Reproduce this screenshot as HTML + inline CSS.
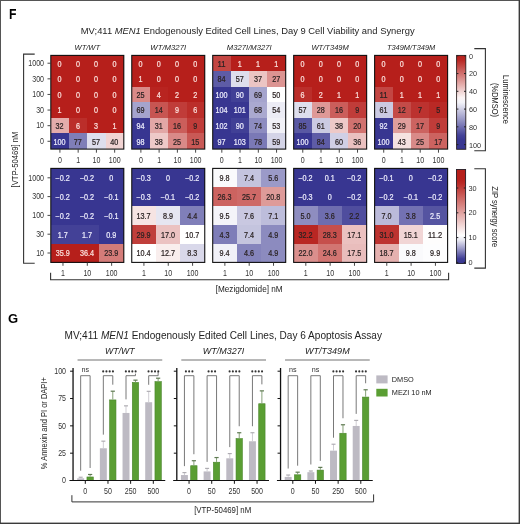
<!DOCTYPE html><html><head><meta charset="utf-8"><style>
html,body{margin:0;padding:0;background:#fff;width:520px;height:524px;overflow:hidden}
svg{display:block;will-change:transform}
text{font-family:"Liberation Sans", sans-serif}
</style></head><body>
<svg width="520" height="524" viewBox="0 0 520 524">
<rect x="0" y="0" width="520" height="524" fill="#fff"/>
<defs>
<linearGradient id="glum" x1="0" y1="0" x2="0" y2="1">
<stop offset="0.000" stop-color="#b61f1b"/>
<stop offset="0.050" stop-color="#b92723"/>
<stop offset="0.100" stop-color="#c1413d"/>
<stop offset="0.150" stop-color="#c95b58"/>
<stop offset="0.200" stop-color="#d27472"/>
<stop offset="0.250" stop-color="#da8e8c"/>
<stop offset="0.300" stop-color="#e3a8a6"/>
<stop offset="0.350" stop-color="#ebc2c1"/>
<stop offset="0.400" stop-color="#f3dcdb"/>
<stop offset="0.450" stop-color="#fcf5f5"/>
<stop offset="0.500" stop-color="#f4f4f9"/>
<stop offset="0.550" stop-color="#dbdbeb"/>
<stop offset="0.600" stop-color="#c2c1dd"/>
<stop offset="0.650" stop-color="#a9a8cf"/>
<stop offset="0.700" stop-color="#908fc1"/>
<stop offset="0.750" stop-color="#7775b4"/>
<stop offset="0.800" stop-color="#5d5ca6"/>
<stop offset="0.850" stop-color="#444298"/>
<stop offset="0.900" stop-color="#383691"/>
<stop offset="0.950" stop-color="#383691"/>
<stop offset="1.000" stop-color="#383691"/>
</linearGradient>
<linearGradient id="gsyn" x1="0" y1="0" x2="0" y2="1">
<stop offset="0.000" stop-color="#b61f1b"/>
<stop offset="0.050" stop-color="#b61f1b"/>
<stop offset="0.100" stop-color="#b61f1b"/>
<stop offset="0.150" stop-color="#ba2a27"/>
<stop offset="0.200" stop-color="#c03e3a"/>
<stop offset="0.250" stop-color="#c6514e"/>
<stop offset="0.300" stop-color="#cd6562"/>
<stop offset="0.350" stop-color="#d37875"/>
<stop offset="0.400" stop-color="#d98b89"/>
<stop offset="0.450" stop-color="#e09f9d"/>
<stop offset="0.500" stop-color="#e6b2b1"/>
<stop offset="0.550" stop-color="#ecc5c4"/>
<stop offset="0.600" stop-color="#f3d9d8"/>
<stop offset="0.650" stop-color="#f9ecec"/>
<stop offset="0.700" stop-color="#ffffff"/>
<stop offset="0.750" stop-color="#eaeaf3"/>
<stop offset="0.800" stop-color="#bfbedc"/>
<stop offset="0.850" stop-color="#9493c4"/>
<stop offset="0.900" stop-color="#6967ac"/>
<stop offset="0.950" stop-color="#3e3c94"/>
<stop offset="1.000" stop-color="#383691"/>
</linearGradient>
</defs>
<text transform="translate(9.0 19) scale(0.86 1)" font-size="14.2" font-weight="bold" fill="#000">F</text>
<text x="7.9" y="323.4" font-size="13" font-weight="bold" fill="#000">G</text>
<text x="80.8" y="34" font-size="9.4" fill="#1e1e1e" textLength="333.8" lengthAdjust="spacingAndGlyphs">MV;411 <tspan font-style="italic">MEN1</tspan> Endogenously Edited Cell Lines, Day 9 Cell Viability and Synergy</text>
<text x="64.6" y="339.2" font-size="10.05" fill="#1e1e1e" textLength="317.4" lengthAdjust="spacingAndGlyphs">MV;411 <tspan font-style="italic">MEN1</tspan> Endogenously Edited Cell Lines, Day 6 Apoptosis Assay</text>
<text x="87.30" y="49.9" font-size="8.1" font-style="italic" fill="#222" text-anchor="middle" textLength="25.6" lengthAdjust="spacingAndGlyphs">WT/WT</text>
<rect x="50.80" y="55.40" width="18.55" height="15.92" fill="#b61f1b" shape-rendering="crispEdges"/>
<rect x="69.05" y="55.40" width="18.55" height="15.92" fill="#b61f1b" shape-rendering="crispEdges"/>
<rect x="87.30" y="55.40" width="18.55" height="15.92" fill="#b61f1b" shape-rendering="crispEdges"/>
<rect x="105.55" y="55.40" width="18.55" height="15.92" fill="#b61f1b" shape-rendering="crispEdges"/>
<rect x="50.80" y="71.02" width="18.55" height="15.92" fill="#b61f1b" shape-rendering="crispEdges"/>
<rect x="69.05" y="71.02" width="18.55" height="15.92" fill="#b61f1b" shape-rendering="crispEdges"/>
<rect x="87.30" y="71.02" width="18.55" height="15.92" fill="#b61f1b" shape-rendering="crispEdges"/>
<rect x="105.55" y="71.02" width="18.55" height="15.92" fill="#b61f1b" shape-rendering="crispEdges"/>
<rect x="50.80" y="86.63" width="18.55" height="15.92" fill="#b61f1b" shape-rendering="crispEdges"/>
<rect x="69.05" y="86.63" width="18.55" height="15.92" fill="#b61f1b" shape-rendering="crispEdges"/>
<rect x="87.30" y="86.63" width="18.55" height="15.92" fill="#b61f1b" shape-rendering="crispEdges"/>
<rect x="105.55" y="86.63" width="18.55" height="15.92" fill="#b61f1b" shape-rendering="crispEdges"/>
<rect x="50.80" y="102.25" width="18.55" height="15.92" fill="#b61f1b" shape-rendering="crispEdges"/>
<rect x="69.05" y="102.25" width="18.55" height="15.92" fill="#b61f1b" shape-rendering="crispEdges"/>
<rect x="87.30" y="102.25" width="18.55" height="15.92" fill="#b61f1b" shape-rendering="crispEdges"/>
<rect x="105.55" y="102.25" width="18.55" height="15.92" fill="#b61f1b" shape-rendering="crispEdges"/>
<rect x="50.80" y="117.87" width="18.55" height="15.92" fill="#e4acab" shape-rendering="crispEdges"/>
<rect x="69.05" y="117.87" width="18.55" height="15.92" fill="#bb2e2a" shape-rendering="crispEdges"/>
<rect x="87.30" y="117.87" width="18.55" height="15.92" fill="#b61f1b" shape-rendering="crispEdges"/>
<rect x="105.55" y="117.87" width="18.55" height="15.92" fill="#b61f1b" shape-rendering="crispEdges"/>
<rect x="50.80" y="133.48" width="18.55" height="15.92" fill="#383691" shape-rendering="crispEdges"/>
<rect x="69.05" y="133.48" width="18.55" height="15.92" fill="#7f7eb8" shape-rendering="crispEdges"/>
<rect x="87.30" y="133.48" width="18.55" height="15.92" fill="#dedeed" shape-rendering="crispEdges"/>
<rect x="105.55" y="133.48" width="18.55" height="15.92" fill="#f1d3d2" shape-rendering="crispEdges"/>
<text x="59.62" y="66.61" font-size="8.30" fill="#fbe0dc" stroke="#fbe0dc" stroke-width="0.22" text-anchor="middle" textLength="4.01" lengthAdjust="spacingAndGlyphs">0</text>
<text x="77.88" y="66.61" font-size="8.30" fill="#fbe0dc" stroke="#fbe0dc" stroke-width="0.22" text-anchor="middle" textLength="4.01" lengthAdjust="spacingAndGlyphs">0</text>
<text x="96.12" y="66.61" font-size="8.30" fill="#fbe0dc" stroke="#fbe0dc" stroke-width="0.22" text-anchor="middle" textLength="4.01" lengthAdjust="spacingAndGlyphs">0</text>
<text x="114.38" y="66.61" font-size="8.30" fill="#fbe0dc" stroke="#fbe0dc" stroke-width="0.22" text-anchor="middle" textLength="4.01" lengthAdjust="spacingAndGlyphs">0</text>
<text x="59.62" y="82.23" font-size="8.30" fill="#fbe0dc" stroke="#fbe0dc" stroke-width="0.22" text-anchor="middle" textLength="4.01" lengthAdjust="spacingAndGlyphs">0</text>
<text x="77.88" y="82.23" font-size="8.30" fill="#fbe0dc" stroke="#fbe0dc" stroke-width="0.22" text-anchor="middle" textLength="4.01" lengthAdjust="spacingAndGlyphs">0</text>
<text x="96.12" y="82.23" font-size="8.30" fill="#fbe0dc" stroke="#fbe0dc" stroke-width="0.22" text-anchor="middle" textLength="4.01" lengthAdjust="spacingAndGlyphs">0</text>
<text x="114.38" y="82.23" font-size="8.30" fill="#fbe0dc" stroke="#fbe0dc" stroke-width="0.22" text-anchor="middle" textLength="4.01" lengthAdjust="spacingAndGlyphs">0</text>
<text x="59.62" y="97.84" font-size="8.30" fill="#fbe0dc" stroke="#fbe0dc" stroke-width="0.22" text-anchor="middle" textLength="4.01" lengthAdjust="spacingAndGlyphs">0</text>
<text x="77.88" y="97.84" font-size="8.30" fill="#fbe0dc" stroke="#fbe0dc" stroke-width="0.22" text-anchor="middle" textLength="4.01" lengthAdjust="spacingAndGlyphs">0</text>
<text x="96.12" y="97.84" font-size="8.30" fill="#fbe0dc" stroke="#fbe0dc" stroke-width="0.22" text-anchor="middle" textLength="4.01" lengthAdjust="spacingAndGlyphs">0</text>
<text x="114.38" y="97.84" font-size="8.30" fill="#fbe0dc" stroke="#fbe0dc" stroke-width="0.22" text-anchor="middle" textLength="4.01" lengthAdjust="spacingAndGlyphs">0</text>
<text x="59.62" y="113.46" font-size="8.30" fill="#fbe0dc" stroke="#fbe0dc" stroke-width="0.22" text-anchor="middle" textLength="4.01" lengthAdjust="spacingAndGlyphs">1</text>
<text x="77.88" y="113.46" font-size="8.30" fill="#fbe0dc" stroke="#fbe0dc" stroke-width="0.22" text-anchor="middle" textLength="4.01" lengthAdjust="spacingAndGlyphs">0</text>
<text x="96.12" y="113.46" font-size="8.30" fill="#fbe0dc" stroke="#fbe0dc" stroke-width="0.22" text-anchor="middle" textLength="4.01" lengthAdjust="spacingAndGlyphs">0</text>
<text x="114.38" y="113.46" font-size="8.30" fill="#fbe0dc" stroke="#fbe0dc" stroke-width="0.22" text-anchor="middle" textLength="4.01" lengthAdjust="spacingAndGlyphs">0</text>
<text x="59.62" y="129.08" font-size="8.30" fill="#2a2222" stroke="#2a2222" stroke-width="0.22" text-anchor="middle" textLength="8.03" lengthAdjust="spacingAndGlyphs">32</text>
<text x="77.88" y="129.08" font-size="8.30" fill="#fbe0dc" stroke="#fbe0dc" stroke-width="0.22" text-anchor="middle" textLength="4.01" lengthAdjust="spacingAndGlyphs">6</text>
<text x="96.12" y="129.08" font-size="8.30" fill="#fbe0dc" stroke="#fbe0dc" stroke-width="0.22" text-anchor="middle" textLength="4.01" lengthAdjust="spacingAndGlyphs">3</text>
<text x="114.38" y="129.08" font-size="8.30" fill="#fbe0dc" stroke="#fbe0dc" stroke-width="0.22" text-anchor="middle" textLength="4.01" lengthAdjust="spacingAndGlyphs">1</text>
<text x="59.62" y="144.69" font-size="8.30" fill="#ececfc" stroke="#ececfc" stroke-width="0.22" text-anchor="middle" textLength="12.04" lengthAdjust="spacingAndGlyphs">100</text>
<text x="77.88" y="144.69" font-size="8.30" fill="#2a2222" stroke="#2a2222" stroke-width="0.22" text-anchor="middle" textLength="8.03" lengthAdjust="spacingAndGlyphs">77</text>
<text x="96.12" y="144.69" font-size="8.30" fill="#2a2222" stroke="#2a2222" stroke-width="0.22" text-anchor="middle" textLength="8.03" lengthAdjust="spacingAndGlyphs">57</text>
<text x="114.38" y="144.69" font-size="8.30" fill="#2a2222" stroke="#2a2222" stroke-width="0.22" text-anchor="middle" textLength="8.03" lengthAdjust="spacingAndGlyphs">40</text>
<rect x="50.80" y="55.40" width="73.00" height="93.70" fill="none" stroke="#111" stroke-width="1.1"/>
<line x1="59.92" y1="149.10" x2="59.92" y2="152.70" stroke="#333" stroke-width="0.9"/>
<text x="59.92" y="163.10" font-size="8.30" fill="#333" text-anchor="middle" textLength="3.92" lengthAdjust="spacingAndGlyphs">0</text>
<line x1="78.17" y1="149.10" x2="78.17" y2="152.70" stroke="#333" stroke-width="0.9"/>
<text x="78.17" y="163.10" font-size="8.30" fill="#333" text-anchor="middle" textLength="3.92" lengthAdjust="spacingAndGlyphs">1</text>
<line x1="96.42" y1="149.10" x2="96.42" y2="152.70" stroke="#333" stroke-width="0.9"/>
<text x="96.42" y="163.10" font-size="8.30" fill="#333" text-anchor="middle" textLength="7.85" lengthAdjust="spacingAndGlyphs">10</text>
<line x1="114.67" y1="149.10" x2="114.67" y2="152.70" stroke="#333" stroke-width="0.9"/>
<text x="114.67" y="163.10" font-size="8.30" fill="#333" text-anchor="middle" textLength="11.77" lengthAdjust="spacingAndGlyphs">100</text>
<rect x="50.80" y="168.40" width="24.63" height="19.10" fill="#383691" shape-rendering="crispEdges"/>
<rect x="75.13" y="168.40" width="24.63" height="19.10" fill="#383691" shape-rendering="crispEdges"/>
<rect x="99.47" y="168.40" width="24.63" height="19.10" fill="#383691" shape-rendering="crispEdges"/>
<rect x="50.80" y="187.20" width="24.63" height="19.10" fill="#383691" shape-rendering="crispEdges"/>
<rect x="75.13" y="187.20" width="24.63" height="19.10" fill="#383691" shape-rendering="crispEdges"/>
<rect x="99.47" y="187.20" width="24.63" height="19.10" fill="#383691" shape-rendering="crispEdges"/>
<rect x="50.80" y="206.00" width="24.63" height="19.10" fill="#383691" shape-rendering="crispEdges"/>
<rect x="75.13" y="206.00" width="24.63" height="19.10" fill="#383691" shape-rendering="crispEdges"/>
<rect x="99.47" y="206.00" width="24.63" height="19.10" fill="#383691" shape-rendering="crispEdges"/>
<rect x="50.80" y="224.80" width="24.63" height="19.10" fill="#434197" shape-rendering="crispEdges"/>
<rect x="75.13" y="224.80" width="24.63" height="19.10" fill="#434197" shape-rendering="crispEdges"/>
<rect x="99.47" y="224.80" width="24.63" height="19.10" fill="#383691" shape-rendering="crispEdges"/>
<rect x="50.80" y="243.60" width="24.63" height="19.10" fill="#b61f1b" shape-rendering="crispEdges"/>
<rect x="75.13" y="243.60" width="24.63" height="19.10" fill="#b61f1b" shape-rendering="crispEdges"/>
<rect x="99.47" y="243.60" width="24.63" height="19.10" fill="#d47c79" shape-rendering="crispEdges"/>
<text x="62.67" y="181.20" font-size="8.30" fill="#ececfc" stroke="#ececfc" stroke-width="0.22" text-anchor="middle" textLength="14.25" lengthAdjust="spacingAndGlyphs">−0.2</text>
<text x="87.00" y="181.20" font-size="8.30" fill="#ececfc" stroke="#ececfc" stroke-width="0.22" text-anchor="middle" textLength="14.25" lengthAdjust="spacingAndGlyphs">−0.2</text>
<text x="111.33" y="181.20" font-size="8.30" fill="#ececfc" stroke="#ececfc" stroke-width="0.22" text-anchor="middle" textLength="4.01" lengthAdjust="spacingAndGlyphs">0</text>
<text x="62.67" y="200.00" font-size="8.30" fill="#ececfc" stroke="#ececfc" stroke-width="0.22" text-anchor="middle" textLength="14.25" lengthAdjust="spacingAndGlyphs">−0.2</text>
<text x="87.00" y="200.00" font-size="8.30" fill="#ececfc" stroke="#ececfc" stroke-width="0.22" text-anchor="middle" textLength="14.25" lengthAdjust="spacingAndGlyphs">−0.2</text>
<text x="111.33" y="200.00" font-size="8.30" fill="#ececfc" stroke="#ececfc" stroke-width="0.22" text-anchor="middle" textLength="14.25" lengthAdjust="spacingAndGlyphs">−0.1</text>
<text x="62.67" y="218.80" font-size="8.30" fill="#ececfc" stroke="#ececfc" stroke-width="0.22" text-anchor="middle" textLength="14.25" lengthAdjust="spacingAndGlyphs">−0.2</text>
<text x="87.00" y="218.80" font-size="8.30" fill="#ececfc" stroke="#ececfc" stroke-width="0.22" text-anchor="middle" textLength="14.25" lengthAdjust="spacingAndGlyphs">−0.2</text>
<text x="111.33" y="218.80" font-size="8.30" fill="#ececfc" stroke="#ececfc" stroke-width="0.22" text-anchor="middle" textLength="14.25" lengthAdjust="spacingAndGlyphs">−0.1</text>
<text x="62.67" y="237.60" font-size="8.30" fill="#ececfc" stroke="#ececfc" stroke-width="0.22" text-anchor="middle" textLength="10.04" lengthAdjust="spacingAndGlyphs">1.7</text>
<text x="87.00" y="237.60" font-size="8.30" fill="#ececfc" stroke="#ececfc" stroke-width="0.22" text-anchor="middle" textLength="10.04" lengthAdjust="spacingAndGlyphs">1.7</text>
<text x="111.33" y="237.60" font-size="8.30" fill="#ececfc" stroke="#ececfc" stroke-width="0.22" text-anchor="middle" textLength="10.04" lengthAdjust="spacingAndGlyphs">0.9</text>
<text x="62.67" y="256.40" font-size="8.30" fill="#fbe0dc" stroke="#fbe0dc" stroke-width="0.22" text-anchor="middle" textLength="14.05" lengthAdjust="spacingAndGlyphs">35.9</text>
<text x="87.00" y="256.40" font-size="8.30" fill="#fbe0dc" stroke="#fbe0dc" stroke-width="0.22" text-anchor="middle" textLength="14.05" lengthAdjust="spacingAndGlyphs">36.4</text>
<text x="111.33" y="256.40" font-size="8.30" fill="#2a2222" stroke="#2a2222" stroke-width="0.22" text-anchor="middle" textLength="14.05" lengthAdjust="spacingAndGlyphs">23.9</text>
<rect x="50.80" y="168.40" width="73.00" height="94.00" fill="none" stroke="#111" stroke-width="1.1"/>
<line x1="62.97" y1="262.40" x2="62.97" y2="265.80" stroke="#333" stroke-width="0.9"/>
<text x="62.97" y="275.80" font-size="8.30" fill="#333" text-anchor="middle" textLength="3.92" lengthAdjust="spacingAndGlyphs">1</text>
<line x1="87.30" y1="262.40" x2="87.30" y2="265.80" stroke="#333" stroke-width="0.9"/>
<text x="87.30" y="275.80" font-size="8.30" fill="#333" text-anchor="middle" textLength="7.85" lengthAdjust="spacingAndGlyphs">10</text>
<line x1="111.63" y1="262.40" x2="111.63" y2="265.80" stroke="#333" stroke-width="0.9"/>
<text x="111.63" y="275.80" font-size="8.30" fill="#333" text-anchor="middle" textLength="11.77" lengthAdjust="spacingAndGlyphs">100</text>
<text x="168.25" y="49.9" font-size="8.1" font-style="italic" fill="#222" text-anchor="middle" textLength="35.8" lengthAdjust="spacingAndGlyphs">WT/M327I</text>
<rect x="131.75" y="55.40" width="18.55" height="15.92" fill="#b61f1b" shape-rendering="crispEdges"/>
<rect x="150.00" y="55.40" width="18.55" height="15.92" fill="#b61f1b" shape-rendering="crispEdges"/>
<rect x="168.25" y="55.40" width="18.55" height="15.92" fill="#b61f1b" shape-rendering="crispEdges"/>
<rect x="186.50" y="55.40" width="18.55" height="15.92" fill="#b61f1b" shape-rendering="crispEdges"/>
<rect x="131.75" y="71.02" width="18.55" height="15.92" fill="#b61f1b" shape-rendering="crispEdges"/>
<rect x="150.00" y="71.02" width="18.55" height="15.92" fill="#b61f1b" shape-rendering="crispEdges"/>
<rect x="168.25" y="71.02" width="18.55" height="15.92" fill="#b61f1b" shape-rendering="crispEdges"/>
<rect x="186.50" y="71.02" width="18.55" height="15.92" fill="#b61f1b" shape-rendering="crispEdges"/>
<rect x="131.75" y="86.63" width="18.55" height="15.92" fill="#d98a88" shape-rendering="crispEdges"/>
<rect x="150.00" y="86.63" width="18.55" height="15.92" fill="#b82420" shape-rendering="crispEdges"/>
<rect x="168.25" y="86.63" width="18.55" height="15.92" fill="#b61f1b" shape-rendering="crispEdges"/>
<rect x="186.50" y="86.63" width="18.55" height="15.92" fill="#b61f1b" shape-rendering="crispEdges"/>
<rect x="131.75" y="102.25" width="18.55" height="15.92" fill="#a5a4cd" shape-rendering="crispEdges"/>
<rect x="150.00" y="102.25" width="18.55" height="15.92" fill="#c75552" shape-rendering="crispEdges"/>
<rect x="168.25" y="102.25" width="18.55" height="15.92" fill="#c03c39" shape-rendering="crispEdges"/>
<rect x="186.50" y="102.25" width="18.55" height="15.92" fill="#bb2e2a" shape-rendering="crispEdges"/>
<rect x="131.75" y="117.87" width="18.55" height="15.92" fill="#383691" shape-rendering="crispEdges"/>
<rect x="150.00" y="117.87" width="18.55" height="15.92" fill="#e2a7a6" shape-rendering="crispEdges"/>
<rect x="168.25" y="117.87" width="18.55" height="15.92" fill="#cb5e5b" shape-rendering="crispEdges"/>
<rect x="186.50" y="117.87" width="18.55" height="15.92" fill="#c03c39" shape-rendering="crispEdges"/>
<rect x="131.75" y="133.48" width="18.55" height="15.92" fill="#383691" shape-rendering="crispEdges"/>
<rect x="150.00" y="133.48" width="18.55" height="15.92" fill="#eec9c8" shape-rendering="crispEdges"/>
<rect x="168.25" y="133.48" width="18.55" height="15.92" fill="#d98a88" shape-rendering="crispEdges"/>
<rect x="186.50" y="133.48" width="18.55" height="15.92" fill="#c95956" shape-rendering="crispEdges"/>
<text x="140.57" y="66.61" font-size="8.30" fill="#fbe0dc" stroke="#fbe0dc" stroke-width="0.22" text-anchor="middle" textLength="4.01" lengthAdjust="spacingAndGlyphs">0</text>
<text x="158.82" y="66.61" font-size="8.30" fill="#fbe0dc" stroke="#fbe0dc" stroke-width="0.22" text-anchor="middle" textLength="4.01" lengthAdjust="spacingAndGlyphs">0</text>
<text x="177.07" y="66.61" font-size="8.30" fill="#fbe0dc" stroke="#fbe0dc" stroke-width="0.22" text-anchor="middle" textLength="4.01" lengthAdjust="spacingAndGlyphs">0</text>
<text x="195.32" y="66.61" font-size="8.30" fill="#fbe0dc" stroke="#fbe0dc" stroke-width="0.22" text-anchor="middle" textLength="4.01" lengthAdjust="spacingAndGlyphs">0</text>
<text x="140.57" y="82.23" font-size="8.30" fill="#fbe0dc" stroke="#fbe0dc" stroke-width="0.22" text-anchor="middle" textLength="4.01" lengthAdjust="spacingAndGlyphs">1</text>
<text x="158.82" y="82.23" font-size="8.30" fill="#fbe0dc" stroke="#fbe0dc" stroke-width="0.22" text-anchor="middle" textLength="4.01" lengthAdjust="spacingAndGlyphs">0</text>
<text x="177.07" y="82.23" font-size="8.30" fill="#fbe0dc" stroke="#fbe0dc" stroke-width="0.22" text-anchor="middle" textLength="4.01" lengthAdjust="spacingAndGlyphs">0</text>
<text x="195.32" y="82.23" font-size="8.30" fill="#fbe0dc" stroke="#fbe0dc" stroke-width="0.22" text-anchor="middle" textLength="4.01" lengthAdjust="spacingAndGlyphs">0</text>
<text x="140.57" y="97.84" font-size="8.30" fill="#2a2222" stroke="#2a2222" stroke-width="0.22" text-anchor="middle" textLength="8.03" lengthAdjust="spacingAndGlyphs">25</text>
<text x="158.82" y="97.84" font-size="8.30" fill="#fbe0dc" stroke="#fbe0dc" stroke-width="0.22" text-anchor="middle" textLength="4.01" lengthAdjust="spacingAndGlyphs">4</text>
<text x="177.07" y="97.84" font-size="8.30" fill="#fbe0dc" stroke="#fbe0dc" stroke-width="0.22" text-anchor="middle" textLength="4.01" lengthAdjust="spacingAndGlyphs">2</text>
<text x="195.32" y="97.84" font-size="8.30" fill="#fbe0dc" stroke="#fbe0dc" stroke-width="0.22" text-anchor="middle" textLength="4.01" lengthAdjust="spacingAndGlyphs">2</text>
<text x="140.57" y="113.46" font-size="8.30" fill="#2a2222" stroke="#2a2222" stroke-width="0.22" text-anchor="middle" textLength="8.03" lengthAdjust="spacingAndGlyphs">69</text>
<text x="158.82" y="113.46" font-size="8.30" fill="#2a2222" stroke="#2a2222" stroke-width="0.22" text-anchor="middle" textLength="8.03" lengthAdjust="spacingAndGlyphs">14</text>
<text x="177.07" y="113.46" font-size="8.30" fill="#fbe0dc" stroke="#fbe0dc" stroke-width="0.22" text-anchor="middle" textLength="4.01" lengthAdjust="spacingAndGlyphs">9</text>
<text x="195.32" y="113.46" font-size="8.30" fill="#fbe0dc" stroke="#fbe0dc" stroke-width="0.22" text-anchor="middle" textLength="4.01" lengthAdjust="spacingAndGlyphs">6</text>
<text x="140.57" y="129.08" font-size="8.30" fill="#ececfc" stroke="#ececfc" stroke-width="0.22" text-anchor="middle" textLength="8.03" lengthAdjust="spacingAndGlyphs">94</text>
<text x="158.82" y="129.08" font-size="8.30" fill="#2a2222" stroke="#2a2222" stroke-width="0.22" text-anchor="middle" textLength="8.03" lengthAdjust="spacingAndGlyphs">31</text>
<text x="177.07" y="129.08" font-size="8.30" fill="#2a2222" stroke="#2a2222" stroke-width="0.22" text-anchor="middle" textLength="8.03" lengthAdjust="spacingAndGlyphs">16</text>
<text x="195.32" y="129.08" font-size="8.30" fill="#2a2222" stroke="#2a2222" stroke-width="0.22" text-anchor="middle" textLength="4.01" lengthAdjust="spacingAndGlyphs">9</text>
<text x="140.57" y="144.69" font-size="8.30" fill="#ececfc" stroke="#ececfc" stroke-width="0.22" text-anchor="middle" textLength="8.03" lengthAdjust="spacingAndGlyphs">98</text>
<text x="158.82" y="144.69" font-size="8.30" fill="#2a2222" stroke="#2a2222" stroke-width="0.22" text-anchor="middle" textLength="8.03" lengthAdjust="spacingAndGlyphs">38</text>
<text x="177.07" y="144.69" font-size="8.30" fill="#2a2222" stroke="#2a2222" stroke-width="0.22" text-anchor="middle" textLength="8.03" lengthAdjust="spacingAndGlyphs">25</text>
<text x="195.32" y="144.69" font-size="8.30" fill="#2a2222" stroke="#2a2222" stroke-width="0.22" text-anchor="middle" textLength="8.03" lengthAdjust="spacingAndGlyphs">15</text>
<rect x="131.75" y="55.40" width="73.00" height="93.70" fill="none" stroke="#111" stroke-width="1.1"/>
<line x1="140.88" y1="149.10" x2="140.88" y2="152.70" stroke="#333" stroke-width="0.9"/>
<text x="140.88" y="163.10" font-size="8.30" fill="#333" text-anchor="middle" textLength="3.92" lengthAdjust="spacingAndGlyphs">0</text>
<line x1="159.12" y1="149.10" x2="159.12" y2="152.70" stroke="#333" stroke-width="0.9"/>
<text x="159.12" y="163.10" font-size="8.30" fill="#333" text-anchor="middle" textLength="3.92" lengthAdjust="spacingAndGlyphs">1</text>
<line x1="177.38" y1="149.10" x2="177.38" y2="152.70" stroke="#333" stroke-width="0.9"/>
<text x="177.38" y="163.10" font-size="8.30" fill="#333" text-anchor="middle" textLength="7.85" lengthAdjust="spacingAndGlyphs">10</text>
<line x1="195.62" y1="149.10" x2="195.62" y2="152.70" stroke="#333" stroke-width="0.9"/>
<text x="195.62" y="163.10" font-size="8.30" fill="#333" text-anchor="middle" textLength="11.77" lengthAdjust="spacingAndGlyphs">100</text>
<rect x="131.75" y="168.40" width="24.63" height="19.10" fill="#383691" shape-rendering="crispEdges"/>
<rect x="156.08" y="168.40" width="24.63" height="19.10" fill="#383691" shape-rendering="crispEdges"/>
<rect x="180.42" y="168.40" width="24.63" height="19.10" fill="#383691" shape-rendering="crispEdges"/>
<rect x="131.75" y="187.20" width="24.63" height="19.10" fill="#383691" shape-rendering="crispEdges"/>
<rect x="156.08" y="187.20" width="24.63" height="19.10" fill="#383691" shape-rendering="crispEdges"/>
<rect x="180.42" y="187.20" width="24.63" height="19.10" fill="#383691" shape-rendering="crispEdges"/>
<rect x="131.75" y="206.00" width="24.63" height="19.10" fill="#f6e4e3" shape-rendering="crispEdges"/>
<rect x="156.08" y="206.00" width="24.63" height="19.10" fill="#e6e6f1" shape-rendering="crispEdges"/>
<rect x="180.42" y="206.00" width="24.63" height="19.10" fill="#807fb9" shape-rendering="crispEdges"/>
<rect x="131.75" y="224.80" width="24.63" height="19.10" fill="#c03f3b" shape-rendering="crispEdges"/>
<rect x="156.08" y="224.80" width="24.63" height="19.10" fill="#ebc2c1" shape-rendering="crispEdges"/>
<rect x="180.42" y="224.80" width="24.63" height="19.10" fill="#ffffff" shape-rendering="crispEdges"/>
<rect x="131.75" y="243.60" width="24.63" height="19.10" fill="#ffffff" shape-rendering="crispEdges"/>
<rect x="156.08" y="243.60" width="24.63" height="19.10" fill="#f9eeed" shape-rendering="crispEdges"/>
<rect x="180.42" y="243.60" width="24.63" height="19.10" fill="#d9d8ea" shape-rendering="crispEdges"/>
<text x="143.62" y="181.20" font-size="8.30" fill="#ececfc" stroke="#ececfc" stroke-width="0.22" text-anchor="middle" textLength="14.25" lengthAdjust="spacingAndGlyphs">−0.3</text>
<text x="167.95" y="181.20" font-size="8.30" fill="#ececfc" stroke="#ececfc" stroke-width="0.22" text-anchor="middle" textLength="4.01" lengthAdjust="spacingAndGlyphs">0</text>
<text x="192.28" y="181.20" font-size="8.30" fill="#ececfc" stroke="#ececfc" stroke-width="0.22" text-anchor="middle" textLength="14.25" lengthAdjust="spacingAndGlyphs">−0.2</text>
<text x="143.62" y="200.00" font-size="8.30" fill="#ececfc" stroke="#ececfc" stroke-width="0.22" text-anchor="middle" textLength="14.25" lengthAdjust="spacingAndGlyphs">−0.3</text>
<text x="167.95" y="200.00" font-size="8.30" fill="#ececfc" stroke="#ececfc" stroke-width="0.22" text-anchor="middle" textLength="14.25" lengthAdjust="spacingAndGlyphs">−0.1</text>
<text x="192.28" y="200.00" font-size="8.30" fill="#ececfc" stroke="#ececfc" stroke-width="0.22" text-anchor="middle" textLength="14.25" lengthAdjust="spacingAndGlyphs">−0.2</text>
<text x="143.62" y="218.80" font-size="8.30" fill="#2a2222" stroke="#2a2222" stroke-width="0.22" text-anchor="middle" textLength="14.05" lengthAdjust="spacingAndGlyphs">13.7</text>
<text x="167.95" y="218.80" font-size="8.30" fill="#2a2222" stroke="#2a2222" stroke-width="0.22" text-anchor="middle" textLength="10.04" lengthAdjust="spacingAndGlyphs">8.9</text>
<text x="192.28" y="218.80" font-size="8.30" fill="#2a2222" stroke="#2a2222" stroke-width="0.22" text-anchor="middle" textLength="10.04" lengthAdjust="spacingAndGlyphs">4.4</text>
<text x="143.62" y="237.60" font-size="8.30" fill="#2a2222" stroke="#2a2222" stroke-width="0.22" text-anchor="middle" textLength="14.05" lengthAdjust="spacingAndGlyphs">29.9</text>
<text x="167.95" y="237.60" font-size="8.30" fill="#2a2222" stroke="#2a2222" stroke-width="0.22" text-anchor="middle" textLength="14.05" lengthAdjust="spacingAndGlyphs">17.0</text>
<text x="192.28" y="237.60" font-size="8.30" fill="#2a2222" stroke="#2a2222" stroke-width="0.22" text-anchor="middle" textLength="14.05" lengthAdjust="spacingAndGlyphs">10.7</text>
<text x="143.62" y="256.40" font-size="8.30" fill="#2a2222" stroke="#2a2222" stroke-width="0.22" text-anchor="middle" textLength="14.05" lengthAdjust="spacingAndGlyphs">10.4</text>
<text x="167.95" y="256.40" font-size="8.30" fill="#2a2222" stroke="#2a2222" stroke-width="0.22" text-anchor="middle" textLength="14.05" lengthAdjust="spacingAndGlyphs">12.7</text>
<text x="192.28" y="256.40" font-size="8.30" fill="#2a2222" stroke="#2a2222" stroke-width="0.22" text-anchor="middle" textLength="10.04" lengthAdjust="spacingAndGlyphs">8.3</text>
<rect x="131.75" y="168.40" width="73.00" height="94.00" fill="none" stroke="#111" stroke-width="1.1"/>
<line x1="143.92" y1="262.40" x2="143.92" y2="265.80" stroke="#333" stroke-width="0.9"/>
<text x="143.92" y="275.80" font-size="8.30" fill="#333" text-anchor="middle" textLength="3.92" lengthAdjust="spacingAndGlyphs">1</text>
<line x1="168.25" y1="262.40" x2="168.25" y2="265.80" stroke="#333" stroke-width="0.9"/>
<text x="168.25" y="275.80" font-size="8.30" fill="#333" text-anchor="middle" textLength="7.85" lengthAdjust="spacingAndGlyphs">10</text>
<line x1="192.58" y1="262.40" x2="192.58" y2="265.80" stroke="#333" stroke-width="0.9"/>
<text x="192.58" y="275.80" font-size="8.30" fill="#333" text-anchor="middle" textLength="11.77" lengthAdjust="spacingAndGlyphs">100</text>
<text x="249.20" y="49.9" font-size="8.1" font-style="italic" fill="#222" text-anchor="middle" textLength="44.8" lengthAdjust="spacingAndGlyphs">M327I/M327I</text>
<rect x="212.70" y="55.40" width="18.55" height="15.92" fill="#c34643" shape-rendering="crispEdges"/>
<rect x="230.95" y="55.40" width="18.55" height="15.92" fill="#b61f1b" shape-rendering="crispEdges"/>
<rect x="249.20" y="55.40" width="18.55" height="15.92" fill="#b61f1b" shape-rendering="crispEdges"/>
<rect x="267.45" y="55.40" width="18.55" height="15.92" fill="#b61f1b" shape-rendering="crispEdges"/>
<rect x="212.70" y="71.02" width="18.55" height="15.92" fill="#5e5ca6" shape-rendering="crispEdges"/>
<rect x="230.95" y="71.02" width="18.55" height="15.92" fill="#dedeed" shape-rendering="crispEdges"/>
<rect x="249.20" y="71.02" width="18.55" height="15.92" fill="#ecc5c4" shape-rendering="crispEdges"/>
<rect x="267.45" y="71.02" width="18.55" height="15.92" fill="#dc9492" shape-rendering="crispEdges"/>
<rect x="212.70" y="86.63" width="18.55" height="15.92" fill="#383691" shape-rendering="crispEdges"/>
<rect x="230.95" y="86.63" width="18.55" height="15.92" fill="#414096" shape-rendering="crispEdges"/>
<rect x="249.20" y="86.63" width="18.55" height="15.92" fill="#a5a4cd" shape-rendering="crispEdges"/>
<rect x="267.45" y="86.63" width="18.55" height="15.92" fill="#ffffff" shape-rendering="crispEdges"/>
<rect x="212.70" y="102.25" width="18.55" height="15.92" fill="#383691" shape-rendering="crispEdges"/>
<rect x="230.95" y="102.25" width="18.55" height="15.92" fill="#383691" shape-rendering="crispEdges"/>
<rect x="249.20" y="102.25" width="18.55" height="15.92" fill="#aaa9d0" shape-rendering="crispEdges"/>
<rect x="267.45" y="102.25" width="18.55" height="15.92" fill="#ececf5" shape-rendering="crispEdges"/>
<rect x="212.70" y="117.87" width="18.55" height="15.92" fill="#383691" shape-rendering="crispEdges"/>
<rect x="230.95" y="117.87" width="18.55" height="15.92" fill="#414096" shape-rendering="crispEdges"/>
<rect x="249.20" y="117.87" width="18.55" height="15.92" fill="#8d8cc0" shape-rendering="crispEdges"/>
<rect x="267.45" y="117.87" width="18.55" height="15.92" fill="#f1f1f7" shape-rendering="crispEdges"/>
<rect x="212.70" y="133.48" width="18.55" height="15.92" fill="#383691" shape-rendering="crispEdges"/>
<rect x="230.95" y="133.48" width="18.55" height="15.92" fill="#383691" shape-rendering="crispEdges"/>
<rect x="249.20" y="133.48" width="18.55" height="15.92" fill="#7a79b6" shape-rendering="crispEdges"/>
<rect x="267.45" y="133.48" width="18.55" height="15.92" fill="#d4d4e7" shape-rendering="crispEdges"/>
<text x="221.52" y="66.61" font-size="8.30" fill="#2a2222" stroke="#2a2222" stroke-width="0.22" text-anchor="middle" textLength="8.03" lengthAdjust="spacingAndGlyphs">11</text>
<text x="239.77" y="66.61" font-size="8.30" fill="#fbe0dc" stroke="#fbe0dc" stroke-width="0.22" text-anchor="middle" textLength="4.01" lengthAdjust="spacingAndGlyphs">1</text>
<text x="258.02" y="66.61" font-size="8.30" fill="#fbe0dc" stroke="#fbe0dc" stroke-width="0.22" text-anchor="middle" textLength="4.01" lengthAdjust="spacingAndGlyphs">1</text>
<text x="276.27" y="66.61" font-size="8.30" fill="#fbe0dc" stroke="#fbe0dc" stroke-width="0.22" text-anchor="middle" textLength="4.01" lengthAdjust="spacingAndGlyphs">1</text>
<text x="221.52" y="82.23" font-size="8.30" fill="#2a2222" stroke="#2a2222" stroke-width="0.22" text-anchor="middle" textLength="8.03" lengthAdjust="spacingAndGlyphs">84</text>
<text x="239.77" y="82.23" font-size="8.30" fill="#2a2222" stroke="#2a2222" stroke-width="0.22" text-anchor="middle" textLength="8.03" lengthAdjust="spacingAndGlyphs">57</text>
<text x="258.02" y="82.23" font-size="8.30" fill="#2a2222" stroke="#2a2222" stroke-width="0.22" text-anchor="middle" textLength="8.03" lengthAdjust="spacingAndGlyphs">37</text>
<text x="276.27" y="82.23" font-size="8.30" fill="#2a2222" stroke="#2a2222" stroke-width="0.22" text-anchor="middle" textLength="8.03" lengthAdjust="spacingAndGlyphs">27</text>
<text x="221.52" y="97.84" font-size="8.30" fill="#ececfc" stroke="#ececfc" stroke-width="0.22" text-anchor="middle" textLength="12.04" lengthAdjust="spacingAndGlyphs">100</text>
<text x="239.77" y="97.84" font-size="8.30" fill="#ececfc" stroke="#ececfc" stroke-width="0.22" text-anchor="middle" textLength="8.03" lengthAdjust="spacingAndGlyphs">90</text>
<text x="258.02" y="97.84" font-size="8.30" fill="#2a2222" stroke="#2a2222" stroke-width="0.22" text-anchor="middle" textLength="8.03" lengthAdjust="spacingAndGlyphs">69</text>
<text x="276.27" y="97.84" font-size="8.30" fill="#2a2222" stroke="#2a2222" stroke-width="0.22" text-anchor="middle" textLength="8.03" lengthAdjust="spacingAndGlyphs">50</text>
<text x="221.52" y="113.46" font-size="8.30" fill="#ececfc" stroke="#ececfc" stroke-width="0.22" text-anchor="middle" textLength="12.04" lengthAdjust="spacingAndGlyphs">104</text>
<text x="239.77" y="113.46" font-size="8.30" fill="#ececfc" stroke="#ececfc" stroke-width="0.22" text-anchor="middle" textLength="12.04" lengthAdjust="spacingAndGlyphs">101</text>
<text x="258.02" y="113.46" font-size="8.30" fill="#2a2222" stroke="#2a2222" stroke-width="0.22" text-anchor="middle" textLength="8.03" lengthAdjust="spacingAndGlyphs">68</text>
<text x="276.27" y="113.46" font-size="8.30" fill="#2a2222" stroke="#2a2222" stroke-width="0.22" text-anchor="middle" textLength="8.03" lengthAdjust="spacingAndGlyphs">54</text>
<text x="221.52" y="129.08" font-size="8.30" fill="#ececfc" stroke="#ececfc" stroke-width="0.22" text-anchor="middle" textLength="12.04" lengthAdjust="spacingAndGlyphs">102</text>
<text x="239.77" y="129.08" font-size="8.30" fill="#ececfc" stroke="#ececfc" stroke-width="0.22" text-anchor="middle" textLength="8.03" lengthAdjust="spacingAndGlyphs">90</text>
<text x="258.02" y="129.08" font-size="8.30" fill="#2a2222" stroke="#2a2222" stroke-width="0.22" text-anchor="middle" textLength="8.03" lengthAdjust="spacingAndGlyphs">74</text>
<text x="276.27" y="129.08" font-size="8.30" fill="#2a2222" stroke="#2a2222" stroke-width="0.22" text-anchor="middle" textLength="8.03" lengthAdjust="spacingAndGlyphs">53</text>
<text x="221.52" y="144.69" font-size="8.30" fill="#ececfc" stroke="#ececfc" stroke-width="0.22" text-anchor="middle" textLength="8.03" lengthAdjust="spacingAndGlyphs">97</text>
<text x="239.77" y="144.69" font-size="8.30" fill="#ececfc" stroke="#ececfc" stroke-width="0.22" text-anchor="middle" textLength="12.04" lengthAdjust="spacingAndGlyphs">103</text>
<text x="258.02" y="144.69" font-size="8.30" fill="#2a2222" stroke="#2a2222" stroke-width="0.22" text-anchor="middle" textLength="8.03" lengthAdjust="spacingAndGlyphs">78</text>
<text x="276.27" y="144.69" font-size="8.30" fill="#2a2222" stroke="#2a2222" stroke-width="0.22" text-anchor="middle" textLength="8.03" lengthAdjust="spacingAndGlyphs">59</text>
<rect x="212.70" y="55.40" width="73.00" height="93.70" fill="none" stroke="#111" stroke-width="1.1"/>
<line x1="221.82" y1="149.10" x2="221.82" y2="152.70" stroke="#333" stroke-width="0.9"/>
<text x="221.82" y="163.10" font-size="8.30" fill="#333" text-anchor="middle" textLength="3.92" lengthAdjust="spacingAndGlyphs">0</text>
<line x1="240.07" y1="149.10" x2="240.07" y2="152.70" stroke="#333" stroke-width="0.9"/>
<text x="240.07" y="163.10" font-size="8.30" fill="#333" text-anchor="middle" textLength="3.92" lengthAdjust="spacingAndGlyphs">1</text>
<line x1="258.32" y1="149.10" x2="258.32" y2="152.70" stroke="#333" stroke-width="0.9"/>
<text x="258.32" y="163.10" font-size="8.30" fill="#333" text-anchor="middle" textLength="7.85" lengthAdjust="spacingAndGlyphs">10</text>
<line x1="276.57" y1="149.10" x2="276.57" y2="152.70" stroke="#333" stroke-width="0.9"/>
<text x="276.57" y="163.10" font-size="8.30" fill="#333" text-anchor="middle" textLength="11.77" lengthAdjust="spacingAndGlyphs">100</text>
<rect x="212.70" y="168.40" width="24.63" height="19.10" fill="#fafafc" shape-rendering="crispEdges"/>
<rect x="237.03" y="168.40" width="24.63" height="19.10" fill="#c4c4de" shape-rendering="crispEdges"/>
<rect x="261.37" y="168.40" width="24.63" height="19.10" fill="#9b9ac8" shape-rendering="crispEdges"/>
<rect x="212.70" y="187.20" width="24.63" height="19.10" fill="#cc6360" shape-rendering="crispEdges"/>
<rect x="237.03" y="187.20" width="24.63" height="19.10" fill="#ce6967" shape-rendering="crispEdges"/>
<rect x="261.37" y="187.20" width="24.63" height="19.10" fill="#de9b99" shape-rendering="crispEdges"/>
<rect x="212.70" y="206.00" width="24.63" height="19.10" fill="#f4f4f9" shape-rendering="crispEdges"/>
<rect x="237.03" y="206.00" width="24.63" height="19.10" fill="#c9c8e1" shape-rendering="crispEdges"/>
<rect x="261.37" y="206.00" width="24.63" height="19.10" fill="#bdbddb" shape-rendering="crispEdges"/>
<rect x="212.70" y="224.80" width="24.63" height="19.10" fill="#7e7db8" shape-rendering="crispEdges"/>
<rect x="237.03" y="224.80" width="24.63" height="19.10" fill="#c4c4de" shape-rendering="crispEdges"/>
<rect x="261.37" y="224.80" width="24.63" height="19.10" fill="#8c8bbf" shape-rendering="crispEdges"/>
<rect x="212.70" y="243.60" width="24.63" height="19.10" fill="#f1f1f8" shape-rendering="crispEdges"/>
<rect x="237.03" y="243.60" width="24.63" height="19.10" fill="#8584bc" shape-rendering="crispEdges"/>
<rect x="261.37" y="243.60" width="24.63" height="19.10" fill="#8c8bbf" shape-rendering="crispEdges"/>
<text x="224.57" y="181.20" font-size="8.30" fill="#2a2222" stroke="#2a2222" stroke-width="0.22" text-anchor="middle" textLength="10.04" lengthAdjust="spacingAndGlyphs">9.8</text>
<text x="248.90" y="181.20" font-size="8.30" fill="#2a2222" stroke="#2a2222" stroke-width="0.22" text-anchor="middle" textLength="10.04" lengthAdjust="spacingAndGlyphs">7.4</text>
<text x="273.23" y="181.20" font-size="8.30" fill="#2a2222" stroke="#2a2222" stroke-width="0.22" text-anchor="middle" textLength="10.04" lengthAdjust="spacingAndGlyphs">5.6</text>
<text x="224.57" y="200.00" font-size="8.30" fill="#2a2222" stroke="#2a2222" stroke-width="0.22" text-anchor="middle" textLength="14.05" lengthAdjust="spacingAndGlyphs">26.3</text>
<text x="248.90" y="200.00" font-size="8.30" fill="#2a2222" stroke="#2a2222" stroke-width="0.22" text-anchor="middle" textLength="14.05" lengthAdjust="spacingAndGlyphs">25.7</text>
<text x="273.23" y="200.00" font-size="8.30" fill="#2a2222" stroke="#2a2222" stroke-width="0.22" text-anchor="middle" textLength="14.05" lengthAdjust="spacingAndGlyphs">20.8</text>
<text x="224.57" y="218.80" font-size="8.30" fill="#2a2222" stroke="#2a2222" stroke-width="0.22" text-anchor="middle" textLength="10.04" lengthAdjust="spacingAndGlyphs">9.5</text>
<text x="248.90" y="218.80" font-size="8.30" fill="#2a2222" stroke="#2a2222" stroke-width="0.22" text-anchor="middle" textLength="10.04" lengthAdjust="spacingAndGlyphs">7.6</text>
<text x="273.23" y="218.80" font-size="8.30" fill="#2a2222" stroke="#2a2222" stroke-width="0.22" text-anchor="middle" textLength="10.04" lengthAdjust="spacingAndGlyphs">7.1</text>
<text x="224.57" y="237.60" font-size="8.30" fill="#2a2222" stroke="#2a2222" stroke-width="0.22" text-anchor="middle" textLength="10.04" lengthAdjust="spacingAndGlyphs">4.3</text>
<text x="248.90" y="237.60" font-size="8.30" fill="#2a2222" stroke="#2a2222" stroke-width="0.22" text-anchor="middle" textLength="10.04" lengthAdjust="spacingAndGlyphs">7.4</text>
<text x="273.23" y="237.60" font-size="8.30" fill="#2a2222" stroke="#2a2222" stroke-width="0.22" text-anchor="middle" textLength="10.04" lengthAdjust="spacingAndGlyphs">4.9</text>
<text x="224.57" y="256.40" font-size="8.30" fill="#2a2222" stroke="#2a2222" stroke-width="0.22" text-anchor="middle" textLength="10.04" lengthAdjust="spacingAndGlyphs">9.4</text>
<text x="248.90" y="256.40" font-size="8.30" fill="#2a2222" stroke="#2a2222" stroke-width="0.22" text-anchor="middle" textLength="10.04" lengthAdjust="spacingAndGlyphs">4.6</text>
<text x="273.23" y="256.40" font-size="8.30" fill="#2a2222" stroke="#2a2222" stroke-width="0.22" text-anchor="middle" textLength="10.04" lengthAdjust="spacingAndGlyphs">4.9</text>
<rect x="212.70" y="168.40" width="73.00" height="94.00" fill="none" stroke="#111" stroke-width="1.1"/>
<line x1="224.87" y1="262.40" x2="224.87" y2="265.80" stroke="#333" stroke-width="0.9"/>
<text x="224.87" y="275.80" font-size="8.30" fill="#333" text-anchor="middle" textLength="3.92" lengthAdjust="spacingAndGlyphs">1</text>
<line x1="249.20" y1="262.40" x2="249.20" y2="265.80" stroke="#333" stroke-width="0.9"/>
<text x="249.20" y="275.80" font-size="8.30" fill="#333" text-anchor="middle" textLength="7.85" lengthAdjust="spacingAndGlyphs">10</text>
<line x1="273.53" y1="262.40" x2="273.53" y2="265.80" stroke="#333" stroke-width="0.9"/>
<text x="273.53" y="275.80" font-size="8.30" fill="#333" text-anchor="middle" textLength="11.77" lengthAdjust="spacingAndGlyphs">100</text>
<text x="330.15" y="49.9" font-size="8.1" font-style="italic" fill="#222" text-anchor="middle" textLength="37.5" lengthAdjust="spacingAndGlyphs">WT/T349M</text>
<rect x="293.65" y="55.40" width="18.55" height="15.92" fill="#b61f1b" shape-rendering="crispEdges"/>
<rect x="311.90" y="55.40" width="18.55" height="15.92" fill="#b61f1b" shape-rendering="crispEdges"/>
<rect x="330.15" y="55.40" width="18.55" height="15.92" fill="#b61f1b" shape-rendering="crispEdges"/>
<rect x="348.40" y="55.40" width="18.55" height="15.92" fill="#b61f1b" shape-rendering="crispEdges"/>
<rect x="293.65" y="71.02" width="18.55" height="15.92" fill="#b61f1b" shape-rendering="crispEdges"/>
<rect x="311.90" y="71.02" width="18.55" height="15.92" fill="#b61f1b" shape-rendering="crispEdges"/>
<rect x="330.15" y="71.02" width="18.55" height="15.92" fill="#b61f1b" shape-rendering="crispEdges"/>
<rect x="348.40" y="71.02" width="18.55" height="15.92" fill="#b61f1b" shape-rendering="crispEdges"/>
<rect x="293.65" y="86.63" width="18.55" height="15.92" fill="#bb2e2a" shape-rendering="crispEdges"/>
<rect x="311.90" y="86.63" width="18.55" height="15.92" fill="#b61f1b" shape-rendering="crispEdges"/>
<rect x="330.15" y="86.63" width="18.55" height="15.92" fill="#b61f1b" shape-rendering="crispEdges"/>
<rect x="348.40" y="86.63" width="18.55" height="15.92" fill="#b61f1b" shape-rendering="crispEdges"/>
<rect x="293.65" y="102.25" width="18.55" height="15.92" fill="#dedeed" shape-rendering="crispEdges"/>
<rect x="311.90" y="102.25" width="18.55" height="15.92" fill="#de9997" shape-rendering="crispEdges"/>
<rect x="330.15" y="102.25" width="18.55" height="15.92" fill="#cb5e5b" shape-rendering="crispEdges"/>
<rect x="348.40" y="102.25" width="18.55" height="15.92" fill="#c03c39" shape-rendering="crispEdges"/>
<rect x="293.65" y="117.87" width="18.55" height="15.92" fill="#5958a3" shape-rendering="crispEdges"/>
<rect x="311.90" y="117.87" width="18.55" height="15.92" fill="#cbcae2" shape-rendering="crispEdges"/>
<rect x="330.15" y="117.87" width="18.55" height="15.92" fill="#eec9c8" shape-rendering="crispEdges"/>
<rect x="348.40" y="117.87" width="18.55" height="15.92" fill="#d1726f" shape-rendering="crispEdges"/>
<rect x="293.65" y="133.48" width="18.55" height="15.92" fill="#383691" shape-rendering="crispEdges"/>
<rect x="311.90" y="133.48" width="18.55" height="15.92" fill="#5e5ca6" shape-rendering="crispEdges"/>
<rect x="330.15" y="133.48" width="18.55" height="15.92" fill="#d0cfe5" shape-rendering="crispEdges"/>
<rect x="348.40" y="133.48" width="18.55" height="15.92" fill="#eac0bf" shape-rendering="crispEdges"/>
<text x="302.48" y="66.61" font-size="8.30" fill="#fbe0dc" stroke="#fbe0dc" stroke-width="0.22" text-anchor="middle" textLength="4.01" lengthAdjust="spacingAndGlyphs">0</text>
<text x="320.73" y="66.61" font-size="8.30" fill="#fbe0dc" stroke="#fbe0dc" stroke-width="0.22" text-anchor="middle" textLength="4.01" lengthAdjust="spacingAndGlyphs">0</text>
<text x="338.98" y="66.61" font-size="8.30" fill="#fbe0dc" stroke="#fbe0dc" stroke-width="0.22" text-anchor="middle" textLength="4.01" lengthAdjust="spacingAndGlyphs">0</text>
<text x="357.23" y="66.61" font-size="8.30" fill="#fbe0dc" stroke="#fbe0dc" stroke-width="0.22" text-anchor="middle" textLength="4.01" lengthAdjust="spacingAndGlyphs">0</text>
<text x="302.48" y="82.23" font-size="8.30" fill="#fbe0dc" stroke="#fbe0dc" stroke-width="0.22" text-anchor="middle" textLength="4.01" lengthAdjust="spacingAndGlyphs">0</text>
<text x="320.73" y="82.23" font-size="8.30" fill="#fbe0dc" stroke="#fbe0dc" stroke-width="0.22" text-anchor="middle" textLength="4.01" lengthAdjust="spacingAndGlyphs">0</text>
<text x="338.98" y="82.23" font-size="8.30" fill="#fbe0dc" stroke="#fbe0dc" stroke-width="0.22" text-anchor="middle" textLength="4.01" lengthAdjust="spacingAndGlyphs">0</text>
<text x="357.23" y="82.23" font-size="8.30" fill="#fbe0dc" stroke="#fbe0dc" stroke-width="0.22" text-anchor="middle" textLength="4.01" lengthAdjust="spacingAndGlyphs">0</text>
<text x="302.48" y="97.84" font-size="8.30" fill="#fbe0dc" stroke="#fbe0dc" stroke-width="0.22" text-anchor="middle" textLength="4.01" lengthAdjust="spacingAndGlyphs">6</text>
<text x="320.73" y="97.84" font-size="8.30" fill="#fbe0dc" stroke="#fbe0dc" stroke-width="0.22" text-anchor="middle" textLength="4.01" lengthAdjust="spacingAndGlyphs">2</text>
<text x="338.98" y="97.84" font-size="8.30" fill="#fbe0dc" stroke="#fbe0dc" stroke-width="0.22" text-anchor="middle" textLength="4.01" lengthAdjust="spacingAndGlyphs">1</text>
<text x="357.23" y="97.84" font-size="8.30" fill="#fbe0dc" stroke="#fbe0dc" stroke-width="0.22" text-anchor="middle" textLength="4.01" lengthAdjust="spacingAndGlyphs">1</text>
<text x="302.48" y="113.46" font-size="8.30" fill="#2a2222" stroke="#2a2222" stroke-width="0.22" text-anchor="middle" textLength="8.03" lengthAdjust="spacingAndGlyphs">57</text>
<text x="320.73" y="113.46" font-size="8.30" fill="#2a2222" stroke="#2a2222" stroke-width="0.22" text-anchor="middle" textLength="8.03" lengthAdjust="spacingAndGlyphs">28</text>
<text x="338.98" y="113.46" font-size="8.30" fill="#2a2222" stroke="#2a2222" stroke-width="0.22" text-anchor="middle" textLength="8.03" lengthAdjust="spacingAndGlyphs">16</text>
<text x="357.23" y="113.46" font-size="8.30" fill="#2a2222" stroke="#2a2222" stroke-width="0.22" text-anchor="middle" textLength="4.01" lengthAdjust="spacingAndGlyphs">9</text>
<text x="302.48" y="129.08" font-size="8.30" fill="#2a2222" stroke="#2a2222" stroke-width="0.22" text-anchor="middle" textLength="8.03" lengthAdjust="spacingAndGlyphs">85</text>
<text x="320.73" y="129.08" font-size="8.30" fill="#2a2222" stroke="#2a2222" stroke-width="0.22" text-anchor="middle" textLength="8.03" lengthAdjust="spacingAndGlyphs">61</text>
<text x="338.98" y="129.08" font-size="8.30" fill="#2a2222" stroke="#2a2222" stroke-width="0.22" text-anchor="middle" textLength="8.03" lengthAdjust="spacingAndGlyphs">38</text>
<text x="357.23" y="129.08" font-size="8.30" fill="#2a2222" stroke="#2a2222" stroke-width="0.22" text-anchor="middle" textLength="8.03" lengthAdjust="spacingAndGlyphs">20</text>
<text x="302.48" y="144.69" font-size="8.30" fill="#ececfc" stroke="#ececfc" stroke-width="0.22" text-anchor="middle" textLength="12.04" lengthAdjust="spacingAndGlyphs">100</text>
<text x="320.73" y="144.69" font-size="8.30" fill="#2a2222" stroke="#2a2222" stroke-width="0.22" text-anchor="middle" textLength="8.03" lengthAdjust="spacingAndGlyphs">84</text>
<text x="338.98" y="144.69" font-size="8.30" fill="#2a2222" stroke="#2a2222" stroke-width="0.22" text-anchor="middle" textLength="8.03" lengthAdjust="spacingAndGlyphs">60</text>
<text x="357.23" y="144.69" font-size="8.30" fill="#2a2222" stroke="#2a2222" stroke-width="0.22" text-anchor="middle" textLength="8.03" lengthAdjust="spacingAndGlyphs">36</text>
<rect x="293.65" y="55.40" width="73.00" height="93.70" fill="none" stroke="#111" stroke-width="1.1"/>
<line x1="302.78" y1="149.10" x2="302.78" y2="152.70" stroke="#333" stroke-width="0.9"/>
<text x="302.78" y="163.10" font-size="8.30" fill="#333" text-anchor="middle" textLength="3.92" lengthAdjust="spacingAndGlyphs">0</text>
<line x1="321.03" y1="149.10" x2="321.03" y2="152.70" stroke="#333" stroke-width="0.9"/>
<text x="321.03" y="163.10" font-size="8.30" fill="#333" text-anchor="middle" textLength="3.92" lengthAdjust="spacingAndGlyphs">1</text>
<line x1="339.28" y1="149.10" x2="339.28" y2="152.70" stroke="#333" stroke-width="0.9"/>
<text x="339.28" y="163.10" font-size="8.30" fill="#333" text-anchor="middle" textLength="7.85" lengthAdjust="spacingAndGlyphs">10</text>
<line x1="357.53" y1="149.10" x2="357.53" y2="152.70" stroke="#333" stroke-width="0.9"/>
<text x="357.53" y="163.10" font-size="8.30" fill="#333" text-anchor="middle" textLength="11.77" lengthAdjust="spacingAndGlyphs">100</text>
<rect x="293.65" y="168.40" width="24.63" height="19.10" fill="#383691" shape-rendering="crispEdges"/>
<rect x="317.98" y="168.40" width="24.63" height="19.10" fill="#383691" shape-rendering="crispEdges"/>
<rect x="342.32" y="168.40" width="24.63" height="19.10" fill="#383691" shape-rendering="crispEdges"/>
<rect x="293.65" y="187.20" width="24.63" height="19.10" fill="#383691" shape-rendering="crispEdges"/>
<rect x="317.98" y="187.20" width="24.63" height="19.10" fill="#383691" shape-rendering="crispEdges"/>
<rect x="342.32" y="187.20" width="24.63" height="19.10" fill="#383691" shape-rendering="crispEdges"/>
<rect x="293.65" y="206.00" width="24.63" height="19.10" fill="#8e8dc0" shape-rendering="crispEdges"/>
<rect x="317.98" y="206.00" width="24.63" height="19.10" fill="#6e6daf" shape-rendering="crispEdges"/>
<rect x="342.32" y="206.00" width="24.63" height="19.10" fill="#4f4d9e" shape-rendering="crispEdges"/>
<rect x="293.65" y="224.80" width="24.63" height="19.10" fill="#b92723" shape-rendering="crispEdges"/>
<rect x="317.98" y="224.80" width="24.63" height="19.10" fill="#c64f4c" shape-rendering="crispEdges"/>
<rect x="342.32" y="224.80" width="24.63" height="19.10" fill="#ebc1c0" shape-rendering="crispEdges"/>
<rect x="293.65" y="243.60" width="24.63" height="19.10" fill="#da8f8d" shape-rendering="crispEdges"/>
<rect x="317.98" y="243.60" width="24.63" height="19.10" fill="#d27572" shape-rendering="crispEdges"/>
<rect x="342.32" y="243.60" width="24.63" height="19.10" fill="#e9bdbc" shape-rendering="crispEdges"/>
<text x="305.52" y="181.20" font-size="8.30" fill="#ececfc" stroke="#ececfc" stroke-width="0.22" text-anchor="middle" textLength="14.25" lengthAdjust="spacingAndGlyphs">−0.2</text>
<text x="329.85" y="181.20" font-size="8.30" fill="#ececfc" stroke="#ececfc" stroke-width="0.22" text-anchor="middle" textLength="10.04" lengthAdjust="spacingAndGlyphs">0.1</text>
<text x="354.18" y="181.20" font-size="8.30" fill="#ececfc" stroke="#ececfc" stroke-width="0.22" text-anchor="middle" textLength="14.25" lengthAdjust="spacingAndGlyphs">−0.2</text>
<text x="305.52" y="200.00" font-size="8.30" fill="#ececfc" stroke="#ececfc" stroke-width="0.22" text-anchor="middle" textLength="14.25" lengthAdjust="spacingAndGlyphs">−0.3</text>
<text x="329.85" y="200.00" font-size="8.30" fill="#ececfc" stroke="#ececfc" stroke-width="0.22" text-anchor="middle" textLength="4.01" lengthAdjust="spacingAndGlyphs">0</text>
<text x="354.18" y="200.00" font-size="8.30" fill="#ececfc" stroke="#ececfc" stroke-width="0.22" text-anchor="middle" textLength="14.25" lengthAdjust="spacingAndGlyphs">−0.2</text>
<text x="305.52" y="218.80" font-size="8.30" fill="#2a2222" stroke="#2a2222" stroke-width="0.22" text-anchor="middle" textLength="10.04" lengthAdjust="spacingAndGlyphs">5.0</text>
<text x="329.85" y="218.80" font-size="8.30" fill="#2a2222" stroke="#2a2222" stroke-width="0.22" text-anchor="middle" textLength="10.04" lengthAdjust="spacingAndGlyphs">3.6</text>
<text x="354.18" y="218.80" font-size="8.30" fill="#2a2222" stroke="#2a2222" stroke-width="0.22" text-anchor="middle" textLength="10.04" lengthAdjust="spacingAndGlyphs">2.2</text>
<text x="305.52" y="237.60" font-size="8.30" fill="#2a2222" stroke="#2a2222" stroke-width="0.22" text-anchor="middle" textLength="14.05" lengthAdjust="spacingAndGlyphs">32.2</text>
<text x="329.85" y="237.60" font-size="8.30" fill="#2a2222" stroke="#2a2222" stroke-width="0.22" text-anchor="middle" textLength="14.05" lengthAdjust="spacingAndGlyphs">28.3</text>
<text x="354.18" y="237.60" font-size="8.30" fill="#2a2222" stroke="#2a2222" stroke-width="0.22" text-anchor="middle" textLength="14.05" lengthAdjust="spacingAndGlyphs">17.1</text>
<text x="305.52" y="256.40" font-size="8.30" fill="#2a2222" stroke="#2a2222" stroke-width="0.22" text-anchor="middle" textLength="14.05" lengthAdjust="spacingAndGlyphs">22.0</text>
<text x="329.85" y="256.40" font-size="8.30" fill="#2a2222" stroke="#2a2222" stroke-width="0.22" text-anchor="middle" textLength="14.05" lengthAdjust="spacingAndGlyphs">24.6</text>
<text x="354.18" y="256.40" font-size="8.30" fill="#2a2222" stroke="#2a2222" stroke-width="0.22" text-anchor="middle" textLength="14.05" lengthAdjust="spacingAndGlyphs">17.5</text>
<rect x="293.65" y="168.40" width="73.00" height="94.00" fill="none" stroke="#111" stroke-width="1.1"/>
<line x1="305.82" y1="262.40" x2="305.82" y2="265.80" stroke="#333" stroke-width="0.9"/>
<text x="305.82" y="275.80" font-size="8.30" fill="#333" text-anchor="middle" textLength="3.92" lengthAdjust="spacingAndGlyphs">1</text>
<line x1="330.15" y1="262.40" x2="330.15" y2="265.80" stroke="#333" stroke-width="0.9"/>
<text x="330.15" y="275.80" font-size="8.30" fill="#333" text-anchor="middle" textLength="7.85" lengthAdjust="spacingAndGlyphs">10</text>
<line x1="354.48" y1="262.40" x2="354.48" y2="265.80" stroke="#333" stroke-width="0.9"/>
<text x="354.48" y="275.80" font-size="8.30" fill="#333" text-anchor="middle" textLength="11.77" lengthAdjust="spacingAndGlyphs">100</text>
<text x="411.10" y="49.9" font-size="8.1" font-style="italic" fill="#222" text-anchor="middle" textLength="48.4" lengthAdjust="spacingAndGlyphs">T349M/T349M</text>
<rect x="374.60" y="55.40" width="18.55" height="15.92" fill="#b61f1b" shape-rendering="crispEdges"/>
<rect x="392.85" y="55.40" width="18.55" height="15.92" fill="#b61f1b" shape-rendering="crispEdges"/>
<rect x="411.10" y="55.40" width="18.55" height="15.92" fill="#b61f1b" shape-rendering="crispEdges"/>
<rect x="429.35" y="55.40" width="18.55" height="15.92" fill="#b61f1b" shape-rendering="crispEdges"/>
<rect x="374.60" y="71.02" width="18.55" height="15.92" fill="#b61f1b" shape-rendering="crispEdges"/>
<rect x="392.85" y="71.02" width="18.55" height="15.92" fill="#b61f1b" shape-rendering="crispEdges"/>
<rect x="411.10" y="71.02" width="18.55" height="15.92" fill="#b61f1b" shape-rendering="crispEdges"/>
<rect x="429.35" y="71.02" width="18.55" height="15.92" fill="#b61f1b" shape-rendering="crispEdges"/>
<rect x="374.60" y="86.63" width="18.55" height="15.92" fill="#c34643" shape-rendering="crispEdges"/>
<rect x="392.85" y="86.63" width="18.55" height="15.92" fill="#b61f1b" shape-rendering="crispEdges"/>
<rect x="411.10" y="86.63" width="18.55" height="15.92" fill="#b61f1b" shape-rendering="crispEdges"/>
<rect x="429.35" y="86.63" width="18.55" height="15.92" fill="#b61f1b" shape-rendering="crispEdges"/>
<rect x="374.60" y="102.25" width="18.55" height="15.92" fill="#cbcae2" shape-rendering="crispEdges"/>
<rect x="392.85" y="102.25" width="18.55" height="15.92" fill="#c44b48" shape-rendering="crispEdges"/>
<rect x="411.10" y="102.25" width="18.55" height="15.92" fill="#bc322f" shape-rendering="crispEdges"/>
<rect x="429.35" y="102.25" width="18.55" height="15.92" fill="#b92925" shape-rendering="crispEdges"/>
<rect x="374.60" y="117.87" width="18.55" height="15.92" fill="#383691" shape-rendering="crispEdges"/>
<rect x="392.85" y="117.87" width="18.55" height="15.92" fill="#df9e9c" shape-rendering="crispEdges"/>
<rect x="411.10" y="117.87" width="18.55" height="15.92" fill="#cc6360" shape-rendering="crispEdges"/>
<rect x="429.35" y="117.87" width="18.55" height="15.92" fill="#c03c39" shape-rendering="crispEdges"/>
<rect x="374.60" y="133.48" width="18.55" height="15.92" fill="#383691" shape-rendering="crispEdges"/>
<rect x="392.85" y="133.48" width="18.55" height="15.92" fill="#f5e2e1" shape-rendering="crispEdges"/>
<rect x="411.10" y="133.48" width="18.55" height="15.92" fill="#d98a88" shape-rendering="crispEdges"/>
<rect x="429.35" y="133.48" width="18.55" height="15.92" fill="#cc6360" shape-rendering="crispEdges"/>
<text x="383.43" y="66.61" font-size="8.30" fill="#fbe0dc" stroke="#fbe0dc" stroke-width="0.22" text-anchor="middle" textLength="4.01" lengthAdjust="spacingAndGlyphs">0</text>
<text x="401.68" y="66.61" font-size="8.30" fill="#fbe0dc" stroke="#fbe0dc" stroke-width="0.22" text-anchor="middle" textLength="4.01" lengthAdjust="spacingAndGlyphs">0</text>
<text x="419.93" y="66.61" font-size="8.30" fill="#fbe0dc" stroke="#fbe0dc" stroke-width="0.22" text-anchor="middle" textLength="4.01" lengthAdjust="spacingAndGlyphs">0</text>
<text x="438.18" y="66.61" font-size="8.30" fill="#fbe0dc" stroke="#fbe0dc" stroke-width="0.22" text-anchor="middle" textLength="4.01" lengthAdjust="spacingAndGlyphs">0</text>
<text x="383.43" y="82.23" font-size="8.30" fill="#fbe0dc" stroke="#fbe0dc" stroke-width="0.22" text-anchor="middle" textLength="4.01" lengthAdjust="spacingAndGlyphs">0</text>
<text x="401.68" y="82.23" font-size="8.30" fill="#fbe0dc" stroke="#fbe0dc" stroke-width="0.22" text-anchor="middle" textLength="4.01" lengthAdjust="spacingAndGlyphs">0</text>
<text x="419.93" y="82.23" font-size="8.30" fill="#fbe0dc" stroke="#fbe0dc" stroke-width="0.22" text-anchor="middle" textLength="4.01" lengthAdjust="spacingAndGlyphs">0</text>
<text x="438.18" y="82.23" font-size="8.30" fill="#fbe0dc" stroke="#fbe0dc" stroke-width="0.22" text-anchor="middle" textLength="4.01" lengthAdjust="spacingAndGlyphs">0</text>
<text x="383.43" y="97.84" font-size="8.30" fill="#2a2222" stroke="#2a2222" stroke-width="0.22" text-anchor="middle" textLength="8.03" lengthAdjust="spacingAndGlyphs">11</text>
<text x="401.68" y="97.84" font-size="8.30" fill="#fbe0dc" stroke="#fbe0dc" stroke-width="0.22" text-anchor="middle" textLength="4.01" lengthAdjust="spacingAndGlyphs">1</text>
<text x="419.93" y="97.84" font-size="8.30" fill="#fbe0dc" stroke="#fbe0dc" stroke-width="0.22" text-anchor="middle" textLength="4.01" lengthAdjust="spacingAndGlyphs">1</text>
<text x="438.18" y="97.84" font-size="8.30" fill="#fbe0dc" stroke="#fbe0dc" stroke-width="0.22" text-anchor="middle" textLength="4.01" lengthAdjust="spacingAndGlyphs">1</text>
<text x="383.43" y="113.46" font-size="8.30" fill="#2a2222" stroke="#2a2222" stroke-width="0.22" text-anchor="middle" textLength="8.03" lengthAdjust="spacingAndGlyphs">61</text>
<text x="401.68" y="113.46" font-size="8.30" fill="#2a2222" stroke="#2a2222" stroke-width="0.22" text-anchor="middle" textLength="8.03" lengthAdjust="spacingAndGlyphs">12</text>
<text x="419.93" y="113.46" font-size="8.30" fill="#2a2222" stroke="#2a2222" stroke-width="0.22" text-anchor="middle" textLength="4.01" lengthAdjust="spacingAndGlyphs">7</text>
<text x="438.18" y="113.46" font-size="8.30" fill="#2a2222" stroke="#2a2222" stroke-width="0.22" text-anchor="middle" textLength="4.01" lengthAdjust="spacingAndGlyphs">5</text>
<text x="383.43" y="129.08" font-size="8.30" fill="#ececfc" stroke="#ececfc" stroke-width="0.22" text-anchor="middle" textLength="8.03" lengthAdjust="spacingAndGlyphs">92</text>
<text x="401.68" y="129.08" font-size="8.30" fill="#2a2222" stroke="#2a2222" stroke-width="0.22" text-anchor="middle" textLength="8.03" lengthAdjust="spacingAndGlyphs">29</text>
<text x="419.93" y="129.08" font-size="8.30" fill="#2a2222" stroke="#2a2222" stroke-width="0.22" text-anchor="middle" textLength="8.03" lengthAdjust="spacingAndGlyphs">17</text>
<text x="438.18" y="129.08" font-size="8.30" fill="#2a2222" stroke="#2a2222" stroke-width="0.22" text-anchor="middle" textLength="4.01" lengthAdjust="spacingAndGlyphs">9</text>
<text x="383.43" y="144.69" font-size="8.30" fill="#ececfc" stroke="#ececfc" stroke-width="0.22" text-anchor="middle" textLength="12.04" lengthAdjust="spacingAndGlyphs">100</text>
<text x="401.68" y="144.69" font-size="8.30" fill="#2a2222" stroke="#2a2222" stroke-width="0.22" text-anchor="middle" textLength="8.03" lengthAdjust="spacingAndGlyphs">43</text>
<text x="419.93" y="144.69" font-size="8.30" fill="#2a2222" stroke="#2a2222" stroke-width="0.22" text-anchor="middle" textLength="8.03" lengthAdjust="spacingAndGlyphs">25</text>
<text x="438.18" y="144.69" font-size="8.30" fill="#2a2222" stroke="#2a2222" stroke-width="0.22" text-anchor="middle" textLength="8.03" lengthAdjust="spacingAndGlyphs">17</text>
<rect x="374.60" y="55.40" width="73.00" height="93.70" fill="none" stroke="#111" stroke-width="1.1"/>
<line x1="383.73" y1="149.10" x2="383.73" y2="152.70" stroke="#333" stroke-width="0.9"/>
<text x="383.73" y="163.10" font-size="8.30" fill="#333" text-anchor="middle" textLength="3.92" lengthAdjust="spacingAndGlyphs">0</text>
<line x1="401.98" y1="149.10" x2="401.98" y2="152.70" stroke="#333" stroke-width="0.9"/>
<text x="401.98" y="163.10" font-size="8.30" fill="#333" text-anchor="middle" textLength="3.92" lengthAdjust="spacingAndGlyphs">1</text>
<line x1="420.23" y1="149.10" x2="420.23" y2="152.70" stroke="#333" stroke-width="0.9"/>
<text x="420.23" y="163.10" font-size="8.30" fill="#333" text-anchor="middle" textLength="7.85" lengthAdjust="spacingAndGlyphs">10</text>
<line x1="438.48" y1="149.10" x2="438.48" y2="152.70" stroke="#333" stroke-width="0.9"/>
<text x="438.48" y="163.10" font-size="8.30" fill="#333" text-anchor="middle" textLength="11.77" lengthAdjust="spacingAndGlyphs">100</text>
<rect x="374.60" y="168.40" width="24.63" height="19.10" fill="#383691" shape-rendering="crispEdges"/>
<rect x="398.93" y="168.40" width="24.63" height="19.10" fill="#383691" shape-rendering="crispEdges"/>
<rect x="423.27" y="168.40" width="24.63" height="19.10" fill="#383691" shape-rendering="crispEdges"/>
<rect x="374.60" y="187.20" width="24.63" height="19.10" fill="#383691" shape-rendering="crispEdges"/>
<rect x="398.93" y="187.20" width="24.63" height="19.10" fill="#383691" shape-rendering="crispEdges"/>
<rect x="423.27" y="187.20" width="24.63" height="19.10" fill="#383691" shape-rendering="crispEdges"/>
<rect x="374.60" y="206.00" width="24.63" height="19.10" fill="#bbbada" shape-rendering="crispEdges"/>
<rect x="398.93" y="206.00" width="24.63" height="19.10" fill="#7371b2" shape-rendering="crispEdges"/>
<rect x="423.27" y="206.00" width="24.63" height="19.10" fill="#5554a1" shape-rendering="crispEdges"/>
<rect x="374.60" y="224.80" width="24.63" height="19.10" fill="#bd3330" shape-rendering="crispEdges"/>
<rect x="398.93" y="224.80" width="24.63" height="19.10" fill="#f1d5d5" shape-rendering="crispEdges"/>
<rect x="423.27" y="224.80" width="24.63" height="19.10" fill="#fefdfd" shape-rendering="crispEdges"/>
<rect x="374.60" y="243.60" width="24.63" height="19.10" fill="#e5b1af" shape-rendering="crispEdges"/>
<rect x="398.93" y="243.60" width="24.63" height="19.10" fill="#fafafc" shape-rendering="crispEdges"/>
<rect x="423.27" y="243.60" width="24.63" height="19.10" fill="#fdfdfe" shape-rendering="crispEdges"/>
<text x="386.47" y="181.20" font-size="8.30" fill="#ececfc" stroke="#ececfc" stroke-width="0.22" text-anchor="middle" textLength="14.25" lengthAdjust="spacingAndGlyphs">−0.1</text>
<text x="410.80" y="181.20" font-size="8.30" fill="#ececfc" stroke="#ececfc" stroke-width="0.22" text-anchor="middle" textLength="4.01" lengthAdjust="spacingAndGlyphs">0</text>
<text x="435.13" y="181.20" font-size="8.30" fill="#ececfc" stroke="#ececfc" stroke-width="0.22" text-anchor="middle" textLength="14.25" lengthAdjust="spacingAndGlyphs">−0.2</text>
<text x="386.47" y="200.00" font-size="8.30" fill="#ececfc" stroke="#ececfc" stroke-width="0.22" text-anchor="middle" textLength="14.25" lengthAdjust="spacingAndGlyphs">−0.2</text>
<text x="410.80" y="200.00" font-size="8.30" fill="#ececfc" stroke="#ececfc" stroke-width="0.22" text-anchor="middle" textLength="14.25" lengthAdjust="spacingAndGlyphs">−0.1</text>
<text x="435.13" y="200.00" font-size="8.30" fill="#ececfc" stroke="#ececfc" stroke-width="0.22" text-anchor="middle" textLength="14.25" lengthAdjust="spacingAndGlyphs">−0.2</text>
<text x="386.47" y="218.80" font-size="8.30" fill="#2a2222" stroke="#2a2222" stroke-width="0.22" text-anchor="middle" textLength="10.04" lengthAdjust="spacingAndGlyphs">7.0</text>
<text x="410.80" y="218.80" font-size="8.30" fill="#2a2222" stroke="#2a2222" stroke-width="0.22" text-anchor="middle" textLength="10.04" lengthAdjust="spacingAndGlyphs">3.8</text>
<text x="435.13" y="218.80" font-size="8.30" fill="#ececfc" stroke="#ececfc" stroke-width="0.22" text-anchor="middle" textLength="10.04" lengthAdjust="spacingAndGlyphs">2.5</text>
<text x="386.47" y="237.60" font-size="8.30" fill="#2a2222" stroke="#2a2222" stroke-width="0.22" text-anchor="middle" textLength="14.05" lengthAdjust="spacingAndGlyphs">31.0</text>
<text x="410.80" y="237.60" font-size="8.30" fill="#2a2222" stroke="#2a2222" stroke-width="0.22" text-anchor="middle" textLength="14.05" lengthAdjust="spacingAndGlyphs">15.1</text>
<text x="435.13" y="237.60" font-size="8.30" fill="#2a2222" stroke="#2a2222" stroke-width="0.22" text-anchor="middle" textLength="14.05" lengthAdjust="spacingAndGlyphs">11.2</text>
<text x="386.47" y="256.40" font-size="8.30" fill="#2a2222" stroke="#2a2222" stroke-width="0.22" text-anchor="middle" textLength="14.05" lengthAdjust="spacingAndGlyphs">18.7</text>
<text x="410.80" y="256.40" font-size="8.30" fill="#2a2222" stroke="#2a2222" stroke-width="0.22" text-anchor="middle" textLength="10.04" lengthAdjust="spacingAndGlyphs">9.8</text>
<text x="435.13" y="256.40" font-size="8.30" fill="#2a2222" stroke="#2a2222" stroke-width="0.22" text-anchor="middle" textLength="10.04" lengthAdjust="spacingAndGlyphs">9.9</text>
<rect x="374.60" y="168.40" width="73.00" height="94.00" fill="none" stroke="#111" stroke-width="1.1"/>
<line x1="386.77" y1="262.40" x2="386.77" y2="265.80" stroke="#333" stroke-width="0.9"/>
<text x="386.77" y="275.80" font-size="8.30" fill="#333" text-anchor="middle" textLength="3.92" lengthAdjust="spacingAndGlyphs">1</text>
<line x1="411.10" y1="262.40" x2="411.10" y2="265.80" stroke="#333" stroke-width="0.9"/>
<text x="411.10" y="275.80" font-size="8.30" fill="#333" text-anchor="middle" textLength="7.85" lengthAdjust="spacingAndGlyphs">10</text>
<line x1="435.43" y1="262.40" x2="435.43" y2="265.80" stroke="#333" stroke-width="0.9"/>
<text x="435.43" y="275.80" font-size="8.30" fill="#333" text-anchor="middle" textLength="11.77" lengthAdjust="spacingAndGlyphs">100</text>
<line x1="47.5" y1="63.21" x2="50.8" y2="63.21" stroke="#333" stroke-width="0.9"/>
<text x="44.00" y="66.01" font-size="8.30" fill="#333" text-anchor="end" textLength="15.69" lengthAdjust="spacingAndGlyphs">1000</text>
<line x1="47.5" y1="78.83" x2="50.8" y2="78.83" stroke="#333" stroke-width="0.9"/>
<text x="44.00" y="81.62" font-size="8.30" fill="#333" text-anchor="end" textLength="11.77" lengthAdjust="spacingAndGlyphs">300</text>
<line x1="47.5" y1="94.44" x2="50.8" y2="94.44" stroke="#333" stroke-width="0.9"/>
<text x="44.00" y="97.24" font-size="8.30" fill="#333" text-anchor="end" textLength="11.77" lengthAdjust="spacingAndGlyphs">100</text>
<line x1="47.5" y1="110.06" x2="50.8" y2="110.06" stroke="#333" stroke-width="0.9"/>
<text x="44.00" y="112.86" font-size="8.30" fill="#333" text-anchor="end" textLength="7.85" lengthAdjust="spacingAndGlyphs">30</text>
<line x1="47.5" y1="125.68" x2="50.8" y2="125.68" stroke="#333" stroke-width="0.9"/>
<text x="44.00" y="128.48" font-size="8.30" fill="#333" text-anchor="end" textLength="7.85" lengthAdjust="spacingAndGlyphs">10</text>
<line x1="47.5" y1="141.29" x2="50.8" y2="141.29" stroke="#333" stroke-width="0.9"/>
<text x="44.00" y="144.09" font-size="8.30" fill="#333" text-anchor="end" textLength="3.92" lengthAdjust="spacingAndGlyphs">0</text>
<line x1="47.5" y1="177.80" x2="50.8" y2="177.80" stroke="#333" stroke-width="0.9"/>
<text x="44.00" y="180.60" font-size="8.30" fill="#333" text-anchor="end" textLength="15.69" lengthAdjust="spacingAndGlyphs">1000</text>
<line x1="47.5" y1="196.60" x2="50.8" y2="196.60" stroke="#333" stroke-width="0.9"/>
<text x="44.00" y="199.40" font-size="8.30" fill="#333" text-anchor="end" textLength="11.77" lengthAdjust="spacingAndGlyphs">300</text>
<line x1="47.5" y1="215.40" x2="50.8" y2="215.40" stroke="#333" stroke-width="0.9"/>
<text x="44.00" y="218.20" font-size="8.30" fill="#333" text-anchor="end" textLength="11.77" lengthAdjust="spacingAndGlyphs">100</text>
<line x1="47.5" y1="234.20" x2="50.8" y2="234.20" stroke="#333" stroke-width="0.9"/>
<text x="44.00" y="237.00" font-size="8.30" fill="#333" text-anchor="end" textLength="7.85" lengthAdjust="spacingAndGlyphs">30</text>
<line x1="47.5" y1="253.00" x2="50.8" y2="253.00" stroke="#333" stroke-width="0.9"/>
<text x="44.00" y="255.80" font-size="8.30" fill="#333" text-anchor="end" textLength="7.85" lengthAdjust="spacingAndGlyphs">10</text>
<path d="M34.7 54.1 H23.6 V263.2 H34.7" fill="none" stroke="#333" stroke-width="1.1"/>
<text transform="translate(17.6 159.5) rotate(-90)" font-size="8.5" fill="#222" text-anchor="middle" textLength="56" lengthAdjust="spacingAndGlyphs">[VTP-50469] nM</text>
<path d="M50.6 272.7 V279.7 H448.6 V272.7" fill="none" stroke="#333" stroke-width="1.1"/>
<text x="249.2" y="292.4" font-size="8.9" fill="#222" text-anchor="middle" textLength="67" lengthAdjust="spacingAndGlyphs">[Mezigdomide] nM</text>
<rect x="456.6" y="55.4" width="9.2" height="93.9" fill="url(#glum)" stroke="#1a1010" stroke-opacity="0.9" stroke-width="0.9"/>
<rect x="456.5" y="169.5" width="9.1" height="94.0" fill="url(#gsyn)" stroke="#10101a" stroke-opacity="0.9" stroke-width="0.9"/>
<line x1="464.0" y1="55.80" x2="466.0" y2="55.80" stroke="#222" stroke-width="1"/>
<line x1="456.6" y1="55.80" x2="458.4" y2="55.80" stroke="#222" stroke-width="1"/>
<text x="469" y="58.70" font-size="7.3" fill="#333">0</text>
<line x1="464.0" y1="73.56" x2="466.0" y2="73.56" stroke="#222" stroke-width="1"/>
<line x1="456.6" y1="73.56" x2="458.4" y2="73.56" stroke="#222" stroke-width="1"/>
<text x="469" y="76.46" font-size="7.3" fill="#333">20</text>
<line x1="464.0" y1="91.32" x2="466.0" y2="91.32" stroke="#222" stroke-width="1"/>
<line x1="456.6" y1="91.32" x2="458.4" y2="91.32" stroke="#222" stroke-width="1"/>
<text x="469" y="94.22" font-size="7.3" fill="#333">40</text>
<line x1="464.0" y1="109.08" x2="466.0" y2="109.08" stroke="#222" stroke-width="1"/>
<line x1="456.6" y1="109.08" x2="458.4" y2="109.08" stroke="#222" stroke-width="1"/>
<text x="469" y="111.98" font-size="7.3" fill="#333">60</text>
<line x1="464.0" y1="126.84" x2="466.0" y2="126.84" stroke="#222" stroke-width="1"/>
<line x1="456.6" y1="126.84" x2="458.4" y2="126.84" stroke="#222" stroke-width="1"/>
<text x="469" y="129.74" font-size="7.3" fill="#333">80</text>
<line x1="464.0" y1="144.60" x2="466.0" y2="144.60" stroke="#222" stroke-width="1"/>
<line x1="456.6" y1="144.60" x2="458.4" y2="144.60" stroke="#222" stroke-width="1"/>
<text x="469" y="147.50" font-size="7.3" fill="#333">100</text>
<line x1="463.8" y1="262.40" x2="465.6" y2="262.40" stroke="#222" stroke-width="1"/>
<line x1="456.5" y1="262.40" x2="458.3" y2="262.40" stroke="#222" stroke-width="1"/>
<text x="468.4" y="265.00" font-size="7.3" fill="#333">0</text>
<line x1="463.8" y1="237.60" x2="465.6" y2="237.60" stroke="#222" stroke-width="1"/>
<line x1="456.5" y1="237.60" x2="458.3" y2="237.60" stroke="#222" stroke-width="1"/>
<text x="468.4" y="240.20" font-size="7.3" fill="#333">10</text>
<line x1="463.8" y1="212.80" x2="465.6" y2="212.80" stroke="#222" stroke-width="1"/>
<line x1="456.5" y1="212.80" x2="458.3" y2="212.80" stroke="#222" stroke-width="1"/>
<text x="468.4" y="215.40" font-size="7.3" fill="#333">20</text>
<line x1="463.8" y1="188.00" x2="465.6" y2="188.00" stroke="#222" stroke-width="1"/>
<line x1="456.5" y1="188.00" x2="458.3" y2="188.00" stroke="#222" stroke-width="1"/>
<text x="468.4" y="190.60" font-size="7.3" fill="#333">30</text>
<path d="M474.3 48.6 H485.4 V150.7 H474.3" fill="none" stroke="#333" stroke-width="1.1"/>
<path d="M474.3 168.7 H485.4 V268.1 H474.3" fill="none" stroke="#333" stroke-width="1.1"/>
<text transform="translate(503.2 99.5) rotate(90)" font-size="8.6" fill="#222" text-anchor="middle" textLength="49" lengthAdjust="spacingAndGlyphs">Luminescence</text>
<text transform="translate(492.3 100.1) rotate(90)" font-size="8.2" fill="#222" text-anchor="middle" textLength="34" lengthAdjust="spacingAndGlyphs">(%DMSO)</text>
<text transform="translate(492.2 216.8) rotate(90)" font-size="8.6" fill="#222" text-anchor="middle" textLength="61" lengthAdjust="spacingAndGlyphs">ZIP synergy score</text>
<text x="119.85" y="354.2" font-size="9.4" font-style="italic" fill="#222" text-anchor="middle" textLength="29.6" lengthAdjust="spacingAndGlyphs">WT/WT</text>
<line x1="77.55" y1="359.9" x2="162.25" y2="359.9" stroke="#a0a0a0" stroke-width="1.5"/>
<rect x="77.20" y="478.31" width="6.95" height="2.19" fill="#bdbac3"/>
<rect x="86.95" y="476.97" width="6.35" height="3.53" fill="#5a9e33" stroke="#4a852b" stroke-width="0.6"/>
<path d="M80.67 478.31 V477.22" stroke="#cfcdd3" stroke-width="1" fill="none"/>
<path d="M78.67 477.22 H82.67" stroke="#a9a7ad" stroke-width="1.1" fill="none"/>
<path d="M90.12 476.67 V474.49" stroke="#86a078" stroke-width="1" fill="none"/>
<path d="M88.02 474.49 H92.22" stroke="#5f7a52" stroke-width="1.2" fill="none"/>
<path d="M80.67 470.72 V375.7 H90.12 V467.99" stroke="#6a6a6a" stroke-width="0.9" fill="none"/>
<text x="85.40" y="371.6" font-size="7.2" fill="#333" text-anchor="middle">ns</text>
<line x1="85.30" y1="480.5" x2="85.30" y2="483.8" stroke="#111" stroke-width="1"/>
<text x="85.30" y="494.20" font-size="8.30" fill="#333" text-anchor="middle" textLength="3.92" lengthAdjust="spacingAndGlyphs">0</text>
<rect x="99.87" y="448.26" width="6.95" height="32.24" fill="#bdbac3"/>
<rect x="109.62" y="399.92" width="6.35" height="80.58" fill="#5a9e33" stroke="#4a852b" stroke-width="0.6"/>
<path d="M103.34 448.26 V441.15" stroke="#cfcdd3" stroke-width="1" fill="none"/>
<path d="M101.34 441.15 H105.34" stroke="#a9a7ad" stroke-width="1.1" fill="none"/>
<path d="M112.79 399.62 V391.20" stroke="#86a078" stroke-width="1" fill="none"/>
<path d="M110.69 391.20 H114.89" stroke="#5f7a52" stroke-width="1.2" fill="none"/>
<path d="M103.34 434.65 V375.7 H112.79 V384.70" stroke="#6a6a6a" stroke-width="0.9" fill="none"/>
<circle cx="103.19" cy="371.4" r="1.05" fill="#333"/>
<circle cx="106.44" cy="371.4" r="1.05" fill="#333"/>
<circle cx="109.69" cy="371.4" r="1.05" fill="#333"/>
<circle cx="112.94" cy="371.4" r="1.05" fill="#333"/>
<line x1="107.97" y1="480.5" x2="107.97" y2="483.8" stroke="#111" stroke-width="1"/>
<text x="107.97" y="494.20" font-size="8.30" fill="#333" text-anchor="middle" textLength="7.85" lengthAdjust="spacingAndGlyphs">50</text>
<rect x="122.54" y="412.95" width="6.95" height="67.55" fill="#bdbac3"/>
<rect x="132.29" y="382.43" width="6.35" height="98.07" fill="#5a9e33" stroke="#4a852b" stroke-width="0.6"/>
<path d="M126.01 412.95 V405.85" stroke="#cfcdd3" stroke-width="1" fill="none"/>
<path d="M124.01 405.85 H128.01" stroke="#a9a7ad" stroke-width="1.1" fill="none"/>
<path d="M135.46 382.13 V380.16" stroke="#86a078" stroke-width="1" fill="none"/>
<path d="M133.36 380.16 H137.56" stroke="#5f7a52" stroke-width="1.2" fill="none"/>
<path d="M126.01 399.35 V375.7 H135.46 V373.66" stroke="#6a6a6a" stroke-width="0.9" fill="none"/>
<circle cx="125.86" cy="371.4" r="1.05" fill="#333"/>
<circle cx="129.11" cy="371.4" r="1.05" fill="#333"/>
<circle cx="132.36" cy="371.4" r="1.05" fill="#333"/>
<circle cx="135.61" cy="371.4" r="1.05" fill="#333"/>
<line x1="130.64" y1="480.5" x2="130.64" y2="483.8" stroke="#111" stroke-width="1"/>
<text x="130.64" y="494.20" font-size="8.30" fill="#333" text-anchor="middle" textLength="11.77" lengthAdjust="spacingAndGlyphs">250</text>
<rect x="145.21" y="402.24" width="6.95" height="78.26" fill="#bdbac3"/>
<rect x="154.96" y="381.66" width="6.35" height="98.84" fill="#5a9e33" stroke="#4a852b" stroke-width="0.6"/>
<path d="M148.69 402.24 V391.31" stroke="#cfcdd3" stroke-width="1" fill="none"/>
<path d="M146.69 391.31 H150.69" stroke="#a9a7ad" stroke-width="1.1" fill="none"/>
<path d="M158.13 381.36 V378.20" stroke="#86a078" stroke-width="1" fill="none"/>
<path d="M156.03 378.20 H160.23" stroke="#5f7a52" stroke-width="1.2" fill="none"/>
<path d="M148.69 384.81 V375.7 H158.13 V371.70" stroke="#6a6a6a" stroke-width="0.9" fill="none"/>
<circle cx="148.53" cy="371.4" r="1.05" fill="#333"/>
<circle cx="151.78" cy="371.4" r="1.05" fill="#333"/>
<circle cx="155.03" cy="371.4" r="1.05" fill="#333"/>
<circle cx="158.28" cy="371.4" r="1.05" fill="#333"/>
<line x1="153.31" y1="480.5" x2="153.31" y2="483.8" stroke="#111" stroke-width="1"/>
<text x="153.31" y="494.20" font-size="8.30" fill="#333" text-anchor="middle" textLength="11.77" lengthAdjust="spacingAndGlyphs">500</text>
<line x1="73.05" y1="368" x2="73.05" y2="481" stroke="#111" stroke-width="1.3"/>
<line x1="69.45" y1="480.5" x2="165.25" y2="480.5" stroke="#111" stroke-width="1.2"/>
<line x1="70.05" y1="480.50" x2="73.05" y2="480.50" stroke="#111" stroke-width="1"/>
<text x="66.00" y="483.30" font-size="8.30" fill="#333" text-anchor="end" textLength="3.92" lengthAdjust="spacingAndGlyphs">0</text>
<line x1="70.05" y1="453.18" x2="73.05" y2="453.18" stroke="#111" stroke-width="1"/>
<text x="66.00" y="455.98" font-size="8.30" fill="#333" text-anchor="end" textLength="7.85" lengthAdjust="spacingAndGlyphs">25</text>
<line x1="70.05" y1="425.85" x2="73.05" y2="425.85" stroke="#111" stroke-width="1"/>
<text x="66.00" y="428.65" font-size="8.30" fill="#333" text-anchor="end" textLength="7.85" lengthAdjust="spacingAndGlyphs">50</text>
<line x1="70.05" y1="398.52" x2="73.05" y2="398.52" stroke="#111" stroke-width="1"/>
<text x="66.00" y="401.32" font-size="8.30" fill="#333" text-anchor="end" textLength="7.85" lengthAdjust="spacingAndGlyphs">75</text>
<line x1="70.05" y1="371.20" x2="73.05" y2="371.20" stroke="#111" stroke-width="1"/>
<text x="66.00" y="374.00" font-size="8.30" fill="#333" text-anchor="end" textLength="11.77" lengthAdjust="spacingAndGlyphs">100</text>
<text x="223.60" y="354.2" font-size="9.4" font-style="italic" fill="#222" text-anchor="middle" textLength="41.5" lengthAdjust="spacingAndGlyphs">WT/M327I</text>
<line x1="181.30" y1="359.9" x2="266.00" y2="359.9" stroke="#a0a0a0" stroke-width="1.5"/>
<rect x="180.95" y="475.04" width="6.95" height="5.46" fill="#bdbac3"/>
<rect x="190.70" y="465.72" width="6.35" height="14.78" fill="#5a9e33" stroke="#4a852b" stroke-width="0.6"/>
<path d="M184.43 475.04 V472.63" stroke="#cfcdd3" stroke-width="1" fill="none"/>
<path d="M182.43 472.63 H186.43" stroke="#a9a7ad" stroke-width="1.1" fill="none"/>
<path d="M193.88 465.42 V460.72" stroke="#86a078" stroke-width="1" fill="none"/>
<path d="M191.78 460.72 H195.97" stroke="#5f7a52" stroke-width="1.2" fill="none"/>
<path d="M184.43 466.13 V375.7 H193.88 V454.22" stroke="#6a6a6a" stroke-width="0.9" fill="none"/>
<circle cx="185.90" cy="371.4" r="1.05" fill="#333"/>
<circle cx="189.15" cy="371.4" r="1.05" fill="#333"/>
<circle cx="192.40" cy="371.4" r="1.05" fill="#333"/>
<line x1="189.05" y1="480.5" x2="189.05" y2="483.8" stroke="#111" stroke-width="1"/>
<text x="189.05" y="494.20" font-size="8.30" fill="#333" text-anchor="middle" textLength="3.92" lengthAdjust="spacingAndGlyphs">0</text>
<rect x="203.62" y="471.43" width="6.95" height="9.07" fill="#bdbac3"/>
<rect x="213.37" y="462.22" width="6.35" height="18.28" fill="#5a9e33" stroke="#4a852b" stroke-width="0.6"/>
<path d="M207.10 471.43 V468.37" stroke="#cfcdd3" stroke-width="1" fill="none"/>
<path d="M205.10 468.37 H209.10" stroke="#a9a7ad" stroke-width="1.1" fill="none"/>
<path d="M216.55 461.92 V457.55" stroke="#86a078" stroke-width="1" fill="none"/>
<path d="M214.45 457.55 H218.65" stroke="#5f7a52" stroke-width="1.2" fill="none"/>
<path d="M207.10 461.87 V375.7 H216.55 V451.05" stroke="#6a6a6a" stroke-width="0.9" fill="none"/>
<circle cx="208.57" cy="371.4" r="1.05" fill="#333"/>
<circle cx="211.82" cy="371.4" r="1.05" fill="#333"/>
<circle cx="215.07" cy="371.4" r="1.05" fill="#333"/>
<line x1="211.72" y1="480.5" x2="211.72" y2="483.8" stroke="#111" stroke-width="1"/>
<text x="211.72" y="494.20" font-size="8.30" fill="#333" text-anchor="middle" textLength="7.85" lengthAdjust="spacingAndGlyphs">50</text>
<rect x="226.29" y="458.31" width="6.95" height="22.19" fill="#bdbac3"/>
<rect x="236.04" y="438.61" width="6.35" height="41.89" fill="#5a9e33" stroke="#4a852b" stroke-width="0.6"/>
<path d="M229.77 458.31 V453.61" stroke="#cfcdd3" stroke-width="1" fill="none"/>
<path d="M227.77 453.61 H231.77" stroke="#a9a7ad" stroke-width="1.1" fill="none"/>
<path d="M239.22 438.31 V432.74" stroke="#86a078" stroke-width="1" fill="none"/>
<path d="M237.12 432.74 H241.31" stroke="#5f7a52" stroke-width="1.2" fill="none"/>
<path d="M229.77 447.11 V375.7 H239.22 V426.24" stroke="#6a6a6a" stroke-width="0.9" fill="none"/>
<circle cx="229.62" cy="371.4" r="1.05" fill="#333"/>
<circle cx="232.87" cy="371.4" r="1.05" fill="#333"/>
<circle cx="236.12" cy="371.4" r="1.05" fill="#333"/>
<circle cx="239.37" cy="371.4" r="1.05" fill="#333"/>
<line x1="234.39" y1="480.5" x2="234.39" y2="483.8" stroke="#111" stroke-width="1"/>
<text x="234.39" y="494.20" font-size="8.30" fill="#333" text-anchor="middle" textLength="11.77" lengthAdjust="spacingAndGlyphs">250</text>
<rect x="248.96" y="441.26" width="6.95" height="39.24" fill="#bdbac3"/>
<rect x="258.71" y="403.74" width="6.35" height="76.76" fill="#5a9e33" stroke="#4a852b" stroke-width="0.6"/>
<path d="M252.44 441.26 V432.74" stroke="#cfcdd3" stroke-width="1" fill="none"/>
<path d="M250.44 432.74 H254.44" stroke="#a9a7ad" stroke-width="1.1" fill="none"/>
<path d="M261.89 403.44 V390.87" stroke="#86a078" stroke-width="1" fill="none"/>
<path d="M259.79 390.87 H263.99" stroke="#5f7a52" stroke-width="1.2" fill="none"/>
<path d="M252.44 426.24 V375.7 H261.89 V384.37" stroke="#6a6a6a" stroke-width="0.9" fill="none"/>
<circle cx="252.29" cy="371.4" r="1.05" fill="#333"/>
<circle cx="255.54" cy="371.4" r="1.05" fill="#333"/>
<circle cx="258.79" cy="371.4" r="1.05" fill="#333"/>
<circle cx="262.04" cy="371.4" r="1.05" fill="#333"/>
<line x1="257.06" y1="480.5" x2="257.06" y2="483.8" stroke="#111" stroke-width="1"/>
<text x="257.06" y="494.20" font-size="8.30" fill="#333" text-anchor="middle" textLength="11.77" lengthAdjust="spacingAndGlyphs">500</text>
<line x1="176.80" y1="368" x2="176.80" y2="481" stroke="#111" stroke-width="1.3"/>
<line x1="173.20" y1="480.5" x2="269.00" y2="480.5" stroke="#111" stroke-width="1.2"/>
<line x1="173.80" y1="480.50" x2="176.80" y2="480.50" stroke="#111" stroke-width="1"/>
<line x1="173.80" y1="453.18" x2="176.80" y2="453.18" stroke="#111" stroke-width="1"/>
<line x1="173.80" y1="425.85" x2="176.80" y2="425.85" stroke="#111" stroke-width="1"/>
<line x1="173.80" y1="398.52" x2="176.80" y2="398.52" stroke="#111" stroke-width="1"/>
<line x1="173.80" y1="371.20" x2="176.80" y2="371.20" stroke="#111" stroke-width="1"/>
<text x="327.35" y="354.2" font-size="9.4" font-style="italic" fill="#222" text-anchor="middle" textLength="44.6" lengthAdjust="spacingAndGlyphs">WT/T349M</text>
<line x1="285.05" y1="359.9" x2="369.75" y2="359.9" stroke="#a0a0a0" stroke-width="1.5"/>
<rect x="284.70" y="476.89" width="6.95" height="3.61" fill="#bdbac3"/>
<rect x="294.45" y="474.79" width="6.35" height="5.71" fill="#5a9e33" stroke="#4a852b" stroke-width="0.6"/>
<path d="M288.18 476.89 V475.04" stroke="#cfcdd3" stroke-width="1" fill="none"/>
<path d="M286.18 475.04 H290.18" stroke="#a9a7ad" stroke-width="1.1" fill="none"/>
<path d="M297.63 474.49 V472.19" stroke="#86a078" stroke-width="1" fill="none"/>
<path d="M295.53 472.19 H299.73" stroke="#5f7a52" stroke-width="1.2" fill="none"/>
<path d="M288.18 468.54 V375.7 H297.63 V465.69" stroke="#6a6a6a" stroke-width="0.9" fill="none"/>
<text x="292.90" y="371.6" font-size="7.2" fill="#333" text-anchor="middle">ns</text>
<line x1="292.80" y1="480.5" x2="292.80" y2="483.8" stroke="#111" stroke-width="1"/>
<text x="292.80" y="494.20" font-size="8.30" fill="#333" text-anchor="middle" textLength="3.92" lengthAdjust="spacingAndGlyphs">0</text>
<rect x="307.37" y="472.19" width="6.95" height="8.31" fill="#bdbac3"/>
<rect x="317.12" y="470.09" width="6.35" height="10.41" fill="#5a9e33" stroke="#4a852b" stroke-width="0.6"/>
<path d="M310.85 472.19 V470.99" stroke="#cfcdd3" stroke-width="1" fill="none"/>
<path d="M308.85 470.99 H312.85" stroke="#a9a7ad" stroke-width="1.1" fill="none"/>
<path d="M320.30 469.79 V467.38" stroke="#86a078" stroke-width="1" fill="none"/>
<path d="M318.20 467.38 H322.40" stroke="#5f7a52" stroke-width="1.2" fill="none"/>
<path d="M310.85 464.49 V375.7 H320.30 V460.88" stroke="#6a6a6a" stroke-width="0.9" fill="none"/>
<text x="315.57" y="371.6" font-size="7.2" fill="#333" text-anchor="middle">ns</text>
<line x1="315.47" y1="480.5" x2="315.47" y2="483.8" stroke="#111" stroke-width="1"/>
<text x="315.47" y="494.20" font-size="8.30" fill="#333" text-anchor="middle" textLength="7.85" lengthAdjust="spacingAndGlyphs">50</text>
<rect x="330.04" y="450.66" width="6.95" height="29.84" fill="#bdbac3"/>
<rect x="339.79" y="433.25" width="6.35" height="47.25" fill="#5a9e33" stroke="#4a852b" stroke-width="0.6"/>
<path d="M333.51 450.66 V444.21" stroke="#cfcdd3" stroke-width="1" fill="none"/>
<path d="M331.51 444.21 H335.51" stroke="#a9a7ad" stroke-width="1.1" fill="none"/>
<path d="M342.97 432.95 V424.76" stroke="#86a078" stroke-width="1" fill="none"/>
<path d="M340.87 424.76 H345.07" stroke="#5f7a52" stroke-width="1.2" fill="none"/>
<path d="M333.51 437.71 V375.7 H342.97 V418.26" stroke="#6a6a6a" stroke-width="0.9" fill="none"/>
<circle cx="333.37" cy="371.4" r="1.05" fill="#333"/>
<circle cx="336.62" cy="371.4" r="1.05" fill="#333"/>
<circle cx="339.87" cy="371.4" r="1.05" fill="#333"/>
<circle cx="343.12" cy="371.4" r="1.05" fill="#333"/>
<line x1="338.14" y1="480.5" x2="338.14" y2="483.8" stroke="#111" stroke-width="1"/>
<text x="338.14" y="494.20" font-size="8.30" fill="#333" text-anchor="middle" textLength="11.77" lengthAdjust="spacingAndGlyphs">250</text>
<rect x="352.71" y="425.96" width="6.95" height="54.54" fill="#bdbac3"/>
<rect x="362.46" y="397.08" width="6.35" height="83.42" fill="#5a9e33" stroke="#4a852b" stroke-width="0.6"/>
<path d="M356.19 425.96 V420.38" stroke="#cfcdd3" stroke-width="1" fill="none"/>
<path d="M354.19 420.38 H358.19" stroke="#a9a7ad" stroke-width="1.1" fill="none"/>
<path d="M365.64 396.78 V389.78" stroke="#86a078" stroke-width="1" fill="none"/>
<path d="M363.54 389.78 H367.74" stroke="#5f7a52" stroke-width="1.2" fill="none"/>
<path d="M356.19 413.88 V375.7 H365.64 V383.28" stroke="#6a6a6a" stroke-width="0.9" fill="none"/>
<circle cx="356.04" cy="371.4" r="1.05" fill="#333"/>
<circle cx="359.29" cy="371.4" r="1.05" fill="#333"/>
<circle cx="362.54" cy="371.4" r="1.05" fill="#333"/>
<circle cx="365.79" cy="371.4" r="1.05" fill="#333"/>
<line x1="360.81" y1="480.5" x2="360.81" y2="483.8" stroke="#111" stroke-width="1"/>
<text x="360.81" y="494.20" font-size="8.30" fill="#333" text-anchor="middle" textLength="11.77" lengthAdjust="spacingAndGlyphs">500</text>
<line x1="280.55" y1="368" x2="280.55" y2="481" stroke="#111" stroke-width="1.3"/>
<line x1="276.95" y1="480.5" x2="372.75" y2="480.5" stroke="#111" stroke-width="1.2"/>
<line x1="277.55" y1="480.50" x2="280.55" y2="480.50" stroke="#111" stroke-width="1"/>
<line x1="277.55" y1="453.18" x2="280.55" y2="453.18" stroke="#111" stroke-width="1"/>
<line x1="277.55" y1="425.85" x2="280.55" y2="425.85" stroke="#111" stroke-width="1"/>
<line x1="277.55" y1="398.52" x2="280.55" y2="398.52" stroke="#111" stroke-width="1"/>
<line x1="277.55" y1="371.20" x2="280.55" y2="371.20" stroke="#111" stroke-width="1"/>
<text transform="translate(47.2 423.2) rotate(-90)" font-size="8.6" fill="#222" text-anchor="middle" textLength="92" lengthAdjust="spacingAndGlyphs">% Annexin and PI or DAPI+</text>
<rect x="376.3" y="375.4" width="11.3" height="8" fill="#bdbac3"/>
<rect x="376.3" y="388.8" width="11.3" height="7.7" fill="#5a9e33"/>
<text x="391.8" y="381.9" font-size="7.33" fill="#222">DMSO</text>
<text x="391.8" y="395.4" font-size="7.33" fill="#222">MEZI 10 nM</text>
<path d="M71.9 495.2 V501.9 H373.6 V494.4" fill="none" stroke="#333" stroke-width="1"/>
<text x="222.7" y="512.8" font-size="8.5" fill="#222" text-anchor="middle" textLength="57" lengthAdjust="spacingAndGlyphs">[VTP-50469] nM</text>
<rect x="0" y="0" width="520" height="1" fill="#555"/>
<rect x="0" y="0" width="1" height="524" fill="#555"/>
<rect x="518.6" y="0" width="1.4" height="524" fill="#3a3a3a"/>
<rect x="0" y="522.6" width="520" height="1.4" fill="#3a3a3a"/>
</svg></body></html>
